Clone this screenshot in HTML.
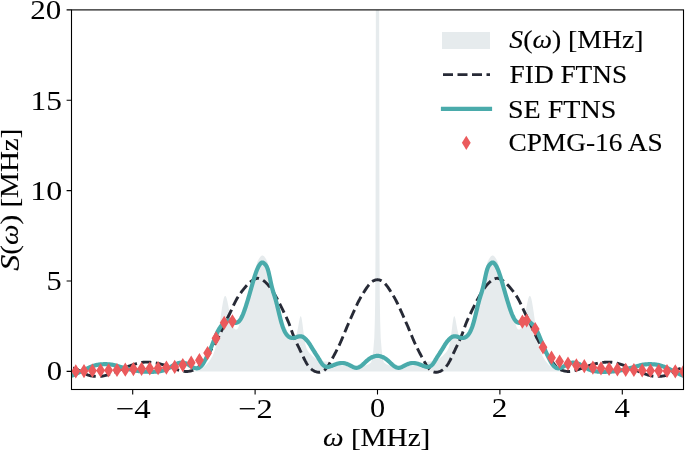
<!DOCTYPE html>
<html><head><meta charset="utf-8"><title>Spectrum</title>
<style>html,body{margin:0;padding:0;background:#fff;overflow:hidden}svg{display:block;will-change:transform}</style>
</head><body>
<svg width="685" height="451" viewBox="0 0 685 451"><rect x="0" y="0" width="685" height="451" fill="#fff"/>
<defs><clipPath id="ax"><rect x="71.5" y="9.9" width="612.0" height="379.6"/></clipPath></defs>
<g clip-path="url(#ax)">
<path d="M71.50,371.40 L71.50,371.40 L71.75,371.40 L72.00,371.40 L72.25,371.40 L72.50,371.40 L72.75,371.40 L73.00,371.40 L73.25,371.40 L73.50,371.40 L73.75,371.40 L74.00,371.40 L74.25,371.40 L74.50,371.40 L74.75,371.40 L75.00,371.40 L75.25,371.40 L75.50,371.40 L75.75,371.40 L76.00,371.40 L76.25,371.40 L76.50,371.40 L76.75,371.40 L77.00,371.40 L77.25,371.40 L77.50,371.40 L77.75,371.40 L78.00,371.40 L78.25,371.40 L78.50,371.40 L78.75,371.40 L79.00,371.40 L79.25,371.40 L79.50,371.40 L79.75,371.40 L80.00,371.40 L80.25,371.40 L80.50,371.40 L80.75,371.40 L81.00,371.40 L81.25,371.40 L81.50,371.40 L81.75,371.40 L82.00,371.40 L82.25,371.40 L82.50,371.40 L82.75,371.40 L83.00,371.40 L83.25,371.40 L83.50,371.40 L83.75,371.40 L84.00,371.40 L84.25,371.40 L84.50,371.40 L84.75,371.40 L85.00,371.40 L85.25,371.40 L85.50,371.40 L85.75,371.40 L86.00,371.40 L86.25,371.40 L86.50,371.40 L86.75,371.40 L87.00,371.40 L87.25,371.40 L87.50,371.40 L87.75,371.40 L88.00,371.40 L88.25,371.40 L88.50,371.40 L88.75,371.40 L89.00,371.40 L89.25,371.40 L89.50,371.40 L89.75,371.40 L90.00,371.40 L90.25,371.40 L90.50,371.40 L90.75,371.40 L91.00,371.40 L91.25,371.40 L91.50,371.40 L91.75,371.40 L92.00,371.40 L92.25,371.40 L92.50,371.40 L92.75,371.40 L93.00,371.40 L93.25,371.40 L93.50,371.40 L93.75,371.40 L94.00,371.40 L94.25,371.40 L94.50,371.40 L94.75,371.40 L95.00,371.40 L95.25,371.40 L95.50,371.40 L95.75,371.40 L96.00,371.40 L96.25,371.40 L96.50,371.40 L96.75,371.40 L97.00,371.40 L97.25,371.40 L97.50,371.40 L97.75,371.40 L98.00,371.40 L98.25,371.40 L98.50,371.40 L98.75,371.40 L99.00,371.40 L99.25,371.40 L99.50,371.40 L99.75,371.40 L100.00,371.40 L100.25,371.40 L100.50,371.40 L100.75,371.40 L101.00,371.40 L101.25,371.40 L101.50,371.40 L101.75,371.40 L102.00,371.40 L102.25,371.40 L102.50,371.40 L102.75,371.40 L103.00,371.40 L103.25,371.40 L103.50,371.40 L103.75,371.40 L104.00,371.40 L104.25,371.40 L104.50,371.40 L104.75,371.40 L105.00,371.40 L105.25,371.40 L105.50,371.40 L105.75,371.40 L106.00,371.40 L106.25,371.40 L106.50,371.40 L106.75,371.40 L107.00,371.40 L107.25,371.40 L107.50,371.40 L107.75,371.40 L108.00,371.40 L108.25,371.40 L108.50,371.40 L108.75,371.40 L109.00,371.40 L109.25,371.40 L109.50,371.40 L109.75,371.40 L110.00,371.40 L110.25,371.40 L110.50,371.40 L110.75,371.40 L111.00,371.40 L111.25,371.40 L111.50,371.40 L111.75,371.40 L112.00,371.40 L112.25,371.40 L112.50,371.40 L112.75,371.40 L113.00,371.40 L113.25,371.40 L113.50,371.40 L113.75,371.40 L114.00,371.40 L114.25,371.40 L114.50,371.40 L114.75,371.40 L115.00,371.40 L115.25,371.40 L115.50,371.40 L115.75,371.40 L116.00,371.40 L116.25,371.40 L116.50,371.40 L116.75,371.40 L117.00,371.40 L117.25,371.40 L117.50,371.40 L117.75,371.40 L118.00,371.40 L118.25,371.40 L118.50,371.40 L118.75,371.40 L119.00,371.40 L119.25,371.40 L119.50,371.40 L119.75,371.40 L120.00,371.40 L120.25,371.40 L120.50,371.40 L120.75,371.40 L121.00,371.40 L121.25,371.40 L121.50,371.40 L121.75,371.40 L122.00,371.40 L122.25,371.40 L122.50,371.40 L122.75,371.40 L123.00,371.40 L123.25,371.40 L123.50,371.40 L123.75,371.40 L124.00,371.40 L124.25,371.40 L124.50,371.40 L124.75,371.40 L125.00,371.40 L125.25,371.40 L125.50,371.40 L125.75,371.40 L126.00,371.40 L126.25,371.40 L126.50,371.40 L126.75,371.40 L127.00,371.40 L127.25,371.40 L127.50,371.40 L127.75,371.40 L128.00,371.40 L128.25,371.40 L128.50,371.40 L128.75,371.40 L129.00,371.40 L129.25,371.40 L129.50,371.40 L129.75,371.40 L130.00,371.40 L130.25,371.40 L130.50,371.40 L130.75,371.40 L131.00,371.40 L131.25,371.40 L131.50,371.40 L131.75,371.40 L132.00,371.40 L132.25,371.40 L132.50,371.40 L132.75,371.40 L133.00,371.40 L133.25,371.40 L133.50,371.40 L133.75,371.40 L134.00,371.40 L134.25,371.40 L134.50,371.40 L134.75,371.40 L135.00,371.40 L135.25,371.40 L135.50,371.40 L135.75,371.40 L136.00,371.40 L136.25,371.40 L136.50,371.40 L136.75,371.40 L137.00,371.40 L137.25,371.40 L137.50,371.40 L137.75,371.40 L138.00,371.40 L138.25,371.40 L138.50,371.40 L138.75,371.40 L139.00,371.40 L139.25,371.40 L139.50,371.40 L139.75,371.40 L140.00,371.40 L140.25,371.40 L140.50,371.40 L140.75,371.40 L141.00,371.40 L141.25,371.40 L141.50,371.40 L141.75,371.40 L142.00,371.40 L142.25,371.40 L142.50,371.40 L142.75,371.40 L143.00,371.40 L143.25,371.40 L143.50,371.40 L143.75,371.40 L144.00,371.40 L144.25,371.40 L144.50,371.40 L144.75,371.40 L145.00,371.40 L145.25,371.40 L145.50,371.40 L145.75,371.40 L146.00,371.40 L146.25,371.40 L146.50,371.40 L146.75,371.40 L147.00,371.40 L147.25,371.40 L147.50,371.40 L147.75,371.40 L148.00,371.40 L148.25,371.40 L148.50,371.40 L148.75,371.40 L149.00,371.40 L149.25,371.40 L149.50,371.40 L149.75,371.40 L150.00,371.40 L150.25,371.40 L150.50,371.40 L150.75,371.40 L151.00,371.40 L151.25,371.40 L151.50,371.40 L151.75,371.40 L152.00,371.40 L152.25,371.40 L152.50,371.40 L152.75,371.40 L153.00,371.40 L153.25,371.40 L153.50,371.40 L153.75,371.40 L154.00,371.40 L154.25,371.40 L154.50,371.40 L154.75,371.40 L155.00,371.40 L155.25,371.40 L155.50,371.40 L155.75,371.40 L156.00,371.40 L156.25,371.40 L156.50,371.40 L156.75,371.40 L157.00,371.40 L157.25,371.40 L157.50,371.40 L157.75,371.40 L158.00,371.40 L158.25,371.40 L158.50,371.40 L158.75,371.40 L159.00,371.40 L159.25,371.40 L159.50,371.40 L159.75,371.40 L160.00,371.40 L160.25,371.40 L160.50,371.40 L160.75,371.40 L161.00,371.40 L161.25,371.40 L161.50,371.40 L161.75,371.40 L162.00,371.40 L162.25,371.40 L162.50,371.40 L162.75,371.40 L163.00,371.40 L163.25,371.40 L163.50,371.40 L163.75,371.40 L164.00,371.40 L164.25,371.40 L164.50,371.40 L164.75,371.40 L165.00,371.40 L165.25,371.40 L165.50,371.40 L165.75,371.40 L166.00,371.40 L166.25,371.40 L166.50,371.40 L166.75,371.40 L167.00,371.40 L167.25,371.40 L167.50,371.40 L167.75,371.40 L168.00,371.40 L168.25,371.40 L168.50,371.40 L168.75,371.40 L169.00,371.40 L169.25,371.40 L169.50,371.40 L169.75,371.40 L170.00,371.40 L170.25,371.40 L170.50,371.40 L170.75,371.40 L171.00,371.40 L171.25,371.40 L171.50,371.40 L171.75,371.40 L172.00,371.40 L172.25,371.40 L172.50,371.40 L172.75,371.40 L173.00,371.40 L173.25,371.40 L173.50,371.40 L173.75,371.40 L174.00,371.40 L174.25,371.40 L174.50,371.40 L174.75,371.40 L175.00,371.40 L175.25,371.40 L175.50,371.40 L175.75,371.40 L176.00,371.40 L176.25,371.40 L176.50,371.40 L176.75,371.40 L177.00,371.40 L177.25,371.40 L177.50,371.40 L177.75,371.40 L178.00,371.40 L178.25,371.40 L178.50,371.40 L178.75,371.40 L179.00,371.40 L179.25,371.40 L179.50,371.40 L179.75,371.40 L180.00,371.40 L180.25,371.40 L180.50,371.40 L180.75,371.40 L181.00,371.40 L181.25,371.40 L181.50,371.40 L181.75,371.40 L182.00,371.40 L182.25,371.40 L182.50,371.40 L182.75,371.40 L183.00,371.40 L183.25,371.40 L183.50,371.40 L183.75,371.40 L184.00,371.40 L184.25,371.40 L184.50,371.40 L184.75,371.40 L185.00,371.40 L185.25,371.40 L185.50,371.40 L185.75,371.40 L186.00,371.40 L186.25,371.40 L186.50,371.40 L186.75,371.40 L187.00,371.40 L187.25,371.40 L187.50,371.40 L187.75,371.40 L188.00,371.40 L188.25,371.40 L188.50,371.40 L188.75,371.40 L189.00,371.40 L189.25,371.40 L189.50,371.40 L189.75,371.40 L190.00,371.40 L190.25,371.40 L190.50,371.39 L190.75,371.39 L191.00,371.38 L191.25,371.37 L191.50,371.35 L191.75,371.33 L192.00,371.32 L192.25,371.29 L192.50,371.27 L192.75,371.25 L193.00,371.22 L193.25,371.19 L193.50,371.16 L193.75,371.13 L194.00,371.10 L194.25,371.06 L194.50,371.03 L194.75,370.99 L195.00,370.95 L195.25,370.92 L195.50,370.88 L195.75,370.84 L196.00,370.80 L196.25,370.76 L196.50,370.71 L196.75,370.65 L197.00,370.58 L197.25,370.51 L197.50,370.43 L197.75,370.35 L198.00,370.26 L198.25,370.16 L198.50,370.06 L198.75,369.95 L199.00,369.84 L199.25,369.72 L199.50,369.60 L199.75,369.47 L200.00,369.34 L200.25,369.21 L200.50,369.07 L200.75,368.92 L201.00,368.78 L201.25,368.63 L201.50,368.47 L201.75,368.32 L202.00,368.16 L202.25,368.00 L202.50,367.83 L202.75,367.67 L203.00,367.50 L203.25,367.33 L203.50,367.15 L203.75,366.96 L204.00,366.76 L204.25,366.56 L204.50,366.35 L204.75,366.13 L205.00,365.91 L205.25,365.68 L205.50,365.44 L205.75,365.20 L206.00,364.95 L206.25,364.69 L206.50,364.43 L206.75,364.16 L207.00,363.88 L207.25,363.60 L207.50,363.32 L207.75,363.02 L208.00,362.73 L208.25,362.42 L208.50,362.12 L208.75,361.80 L209.00,361.49 L209.25,361.16 L209.50,360.82 L209.75,360.48 L210.00,360.13 L210.25,359.76 L210.50,359.39 L210.75,359.00 L211.00,358.60 L211.25,358.19 L211.50,357.77 L211.75,357.33 L212.00,356.88 L212.25,356.41 L212.50,355.92 L212.75,355.41 L213.00,354.89 L213.25,354.33 L213.50,353.76 L213.75,353.16 L214.00,352.52 L214.25,351.85 L214.50,351.12 L214.75,350.34 L215.00,349.51 L215.25,348.63 L215.50,347.69 L215.75,346.70 L216.00,345.66 L216.25,344.57 L216.50,343.42 L216.75,342.22 L217.00,340.97 L217.25,339.67 L217.50,338.32 L217.75,336.91 L218.00,335.47 L218.25,333.96 L218.50,332.39 L218.75,330.76 L219.00,329.08 L219.25,327.34 L219.50,325.57 L219.75,323.76 L220.00,321.94 L220.25,320.10 L220.50,318.26 L220.75,316.43 L221.00,314.63 L221.25,312.86 L221.50,311.11 L221.75,309.40 L222.00,307.74 L222.25,306.15 L222.50,304.63 L222.75,303.20 L223.00,301.87 L223.25,300.65 L223.50,299.55 L223.75,298.59 L224.00,297.77 L224.25,297.10 L224.50,296.58 L224.75,296.22 L225.00,296.01 L225.25,295.96 L225.50,296.07 L225.75,296.33 L226.00,296.74 L226.25,297.28 L226.50,297.96 L226.75,298.76 L227.00,299.68 L227.25,300.69 L227.50,301.79 L227.75,302.96 L228.00,304.20 L228.25,305.48 L228.50,306.80 L228.75,308.14 L229.00,309.49 L229.25,310.84 L229.50,312.17 L229.75,313.48 L230.00,314.76 L230.25,316.00 L230.50,317.20 L230.75,318.37 L231.00,319.49 L231.25,320.55 L231.50,321.56 L231.75,322.50 L232.00,323.39 L232.25,324.20 L232.50,324.96 L232.75,325.65 L233.00,326.27 L233.25,326.83 L233.50,327.33 L233.75,327.77 L234.00,328.16 L234.25,328.48 L234.50,328.76 L234.75,328.98 L235.00,329.15 L235.25,329.29 L235.50,329.41 L235.75,329.50 L236.00,329.55 L236.25,329.57 L236.50,329.55 L236.75,329.47 L237.00,329.33 L237.25,329.13 L237.50,328.85 L237.75,328.50 L238.00,328.05 L238.25,327.52 L238.50,326.88 L238.75,326.17 L239.00,325.45 L239.25,324.71 L239.50,323.96 L239.75,323.19 L240.00,322.42 L240.25,321.63 L240.50,320.84 L240.75,320.04 L241.00,319.23 L241.25,318.43 L241.50,317.62 L241.75,316.81 L242.00,316.00 L242.25,315.19 L242.50,314.38 L242.75,313.57 L243.00,312.76 L243.25,311.95 L243.50,311.14 L243.75,310.33 L244.00,309.52 L244.25,308.71 L244.50,307.90 L244.75,307.09 L245.00,306.27 L245.25,305.46 L245.50,304.64 L245.75,303.82 L246.00,303.00 L246.25,302.18 L246.50,301.35 L246.75,300.52 L247.00,299.69 L247.25,298.86 L247.50,298.03 L247.75,297.19 L248.00,296.35 L248.25,295.50 L248.50,294.65 L248.75,293.80 L249.00,292.95 L249.25,292.09 L249.50,291.23 L249.75,290.37 L250.00,289.50 L250.25,288.63 L250.50,287.76 L250.75,286.88 L251.00,286.00 L251.25,285.11 L251.50,284.21 L251.75,283.30 L252.00,282.38 L252.25,281.45 L252.50,280.52 L252.75,279.58 L253.00,278.63 L253.25,277.68 L253.50,276.73 L253.75,275.77 L254.00,274.81 L254.25,273.86 L254.50,272.90 L254.75,271.95 L255.00,271.00 L255.25,270.03 L255.50,269.01 L255.75,267.98 L256.00,266.93 L256.25,265.90 L256.50,264.89 L256.75,263.92 L257.00,263.00 L257.25,262.20 L257.50,261.53 L257.75,260.97 L258.00,260.48 L258.25,260.04 L258.50,259.60 L258.75,259.16 L259.00,258.73 L259.25,258.31 L259.50,257.91 L259.75,257.54 L260.00,257.20 L260.25,256.90 L260.50,256.62 L260.75,256.37 L261.00,256.15 L261.25,255.94 L261.50,255.75 L261.75,255.59 L262.00,255.48 L262.25,255.41 L262.50,255.41 L262.75,255.46 L263.00,255.57 L263.25,255.72 L263.50,255.90 L263.75,256.10 L264.00,256.33 L264.25,256.57 L264.50,256.84 L264.75,257.14 L265.00,257.47 L265.25,257.83 L265.50,258.23 L265.75,258.64 L266.00,259.07 L266.25,259.51 L266.50,259.95 L266.75,260.41 L267.00,260.91 L267.25,261.47 L267.50,262.11 L267.75,262.84 L268.00,263.68 L268.25,264.60 L268.50,265.60 L268.75,266.66 L269.00,267.77 L269.25,268.92 L269.50,270.10 L269.75,271.28 L270.00,272.48 L270.25,273.72 L270.50,274.99 L270.75,276.29 L271.00,277.61 L271.25,278.92 L271.50,280.21 L271.75,281.48 L272.00,282.71 L272.25,283.89 L272.50,285.00 L272.75,286.06 L273.00,287.10 L273.25,288.13 L273.50,289.14 L273.75,290.14 L274.00,291.12 L274.25,292.10 L274.50,293.08 L274.75,294.05 L275.00,295.03 L275.25,296.00 L275.50,296.98 L275.75,297.97 L276.00,298.97 L276.25,299.98 L276.50,301.00 L276.75,302.04 L277.00,303.10 L277.25,304.17 L277.50,305.25 L277.75,306.33 L278.00,307.43 L278.25,308.52 L278.50,309.61 L278.75,310.70 L279.00,311.79 L279.25,312.86 L279.50,313.92 L279.75,314.97 L280.00,316.00 L280.25,317.00 L280.50,317.96 L280.75,318.89 L281.00,319.77 L281.25,320.63 L281.50,321.45 L281.75,322.23 L282.00,322.99 L282.25,323.71 L282.50,324.40 L282.75,325.07 L283.00,325.70 L283.25,326.32 L283.50,326.90 L283.75,327.46 L284.00,328.00 L284.25,328.52 L284.50,329.02 L284.75,329.50 L285.00,329.96 L285.25,330.41 L285.50,330.84 L285.75,331.24 L286.00,331.63 L286.25,332.00 L286.50,332.35 L286.75,332.67 L287.00,332.98 L287.25,333.27 L287.50,333.53 L287.75,333.78 L288.00,334.00 L288.25,334.21 L288.50,334.42 L288.75,334.63 L289.00,334.84 L289.25,335.04 L289.50,335.24 L289.75,335.42 L290.00,335.60 L290.25,335.77 L290.50,335.92 L290.75,336.06 L291.00,336.19 L291.25,336.29 L291.50,336.38 L291.75,336.45 L292.00,336.49 L292.25,336.52 L292.50,336.55 L292.75,336.58 L293.00,336.60 L293.25,336.61 L293.50,336.61 L293.75,336.60 L294.00,336.57 L294.25,336.53 L294.50,336.46 L294.75,336.35 L295.00,336.20 L295.25,336.01 L295.50,335.75 L295.75,335.42 L296.00,335.01 L296.25,334.50 L296.50,333.89 L296.75,333.16 L297.00,332.31 L297.25,331.33 L297.50,330.23 L297.75,329.01 L298.00,327.70 L298.25,326.32 L298.50,324.88 L298.75,323.43 L299.00,322.01 L299.25,320.66 L299.50,319.41 L299.75,318.32 L300.00,317.43 L300.25,316.76 L300.50,316.34 L300.75,316.20 L301.00,316.37 L301.25,316.92 L301.50,317.83 L301.75,319.05 L302.00,320.54 L302.25,322.25 L302.50,324.12 L302.75,326.10 L303.00,328.13 L303.25,330.15 L303.50,332.11 L303.75,334.02 L304.00,335.88 L304.25,337.67 L304.50,339.35 L304.75,340.92 L305.00,342.36 L305.25,343.66 L305.50,344.82 L305.75,345.84 L306.00,346.71 L306.25,347.47 L306.50,348.14 L306.75,348.75 L307.00,349.30 L307.25,349.79 L307.50,350.24 L307.75,350.66 L308.00,351.05 L308.25,351.41 L308.50,351.76 L308.75,352.08 L309.00,352.39 L309.25,352.68 L309.50,352.96 L309.75,353.24 L310.00,353.50 L310.25,353.75 L310.50,354.00 L310.75,354.26 L311.00,354.50 L311.25,354.75 L311.50,354.99 L311.75,355.23 L312.00,355.47 L312.25,355.71 L312.50,355.94 L312.75,356.16 L313.00,356.39 L313.25,356.61 L313.50,356.82 L313.75,357.03 L314.00,357.23 L314.25,357.43 L314.50,357.63 L314.75,357.82 L315.00,358.00 L315.25,358.18 L315.50,358.36 L315.75,358.54 L316.00,358.73 L316.25,358.91 L316.50,359.08 L316.75,359.26 L317.00,359.43 L317.25,359.59 L317.50,359.75 L317.75,359.90 L318.00,360.05 L318.25,360.18 L318.50,360.31 L318.75,360.42 L319.00,360.52 L319.25,360.61 L319.50,360.69 L319.75,360.75 L320.00,360.80 L320.25,360.84 L320.50,360.88 L320.75,360.92 L321.00,360.95 L321.25,360.99 L321.50,361.03 L321.75,361.06 L322.00,361.10 L322.25,361.13 L322.50,361.17 L322.75,361.20 L323.00,361.24 L323.25,361.27 L323.50,361.30 L323.75,361.34 L324.00,361.37 L324.25,361.40 L324.50,361.43 L324.75,361.47 L325.00,361.50 L325.25,361.53 L325.50,361.55 L325.75,361.57 L326.00,361.58 L326.25,361.59 L326.50,361.60 L326.75,361.61 L327.00,361.63 L327.25,361.65 L327.50,361.67 L327.75,361.70 L328.00,361.74 L328.25,361.78 L328.50,361.84 L328.75,361.91 L329.00,362.00 L329.25,362.09 L329.50,362.19 L329.75,362.28 L330.00,362.38 L330.25,362.47 L330.50,362.56 L330.75,362.66 L331.00,362.75 L331.25,362.84 L331.50,362.94 L331.75,363.03 L332.00,363.12 L332.25,363.22 L332.50,363.31 L332.75,363.41 L333.00,363.50 L333.25,363.59 L333.50,363.69 L333.75,363.78 L334.00,363.88 L334.25,363.97 L334.50,364.06 L334.75,364.16 L335.00,364.25 L335.25,364.34 L335.50,364.44 L335.75,364.53 L336.00,364.62 L336.25,364.72 L336.50,364.81 L336.75,364.91 L337.00,365.00 L337.25,365.09 L337.50,365.16 L337.75,365.22 L338.00,365.27 L338.25,365.31 L338.50,365.34 L338.75,365.37 L339.00,365.39 L339.25,365.40 L339.50,365.41 L339.75,365.42 L340.00,365.43 L340.25,365.45 L340.50,365.46 L340.75,365.48 L341.00,365.50 L341.25,365.53 L341.50,365.55 L341.75,365.58 L342.00,365.60 L342.25,365.63 L342.50,365.65 L342.75,365.68 L343.00,365.70 L343.25,365.73 L343.50,365.75 L343.75,365.78 L344.00,365.80 L344.25,365.83 L344.50,365.85 L344.75,365.88 L345.00,365.90 L345.25,365.93 L345.50,365.95 L345.75,365.97 L346.00,366.00 L346.25,366.02 L346.50,366.05 L346.75,366.07 L347.00,366.10 L347.25,366.12 L347.50,366.15 L347.75,366.17 L348.00,366.20 L348.25,366.22 L348.50,366.25 L348.75,366.27 L349.00,366.30 L349.25,366.33 L349.50,366.35 L349.75,366.39 L350.00,366.42 L350.25,366.45 L350.50,366.48 L350.75,366.52 L351.00,366.56 L351.25,366.59 L351.50,366.63 L351.75,366.67 L352.00,366.71 L352.25,366.75 L352.50,366.79 L352.75,366.83 L353.00,366.87 L353.25,366.91 L353.50,366.95 L353.75,366.99 L354.00,367.03 L354.25,367.06 L354.50,367.10 L354.75,367.14 L355.00,367.17 L355.25,367.21 L355.50,367.24 L355.75,367.27 L356.00,367.30 L356.25,367.33 L356.50,367.35 L356.75,367.38 L357.00,367.40 L357.25,367.42 L357.50,367.43 L357.75,367.43 L358.00,367.42 L358.25,367.41 L358.50,367.39 L358.75,367.36 L359.00,367.33 L359.25,367.29 L359.50,367.25 L359.75,367.20 L360.00,367.15 L360.25,367.09 L360.50,367.03 L360.75,366.97 L361.00,366.90 L361.25,366.83 L361.50,366.76 L361.75,366.68 L362.00,366.61 L362.25,366.53 L362.50,366.46 L362.75,366.38 L363.00,366.30 L363.25,366.23 L363.50,366.15 L363.75,366.07 L364.00,366.00 L364.25,365.93 L364.50,365.85 L364.75,365.77 L365.00,365.69 L365.25,365.61 L365.50,365.52 L365.75,365.43 L366.00,365.34 L366.25,365.25 L366.50,365.15 L366.75,365.05 L367.00,364.95 L367.25,364.84 L367.50,364.73 L367.75,364.62 L368.00,364.50 L368.25,364.38 L368.50,364.26 L368.75,364.13 L369.00,364.00 L369.25,363.86 L369.50,363.70 L369.75,363.53 L370.00,363.34 L370.25,363.15 L370.50,362.94 L370.75,362.72 L371.00,362.49 L371.25,362.25 L372.50,355.00 L373.30,350.00 L374.30,338.00 L374.80,322.00 L375.20,300.00 L375.50,250.00 L375.70,120.00 L375.85,5.00 L379.15,5.00 L379.30,120.00 L379.50,250.00 L379.80,300.00 L380.20,322.00 L380.70,338.00 L381.70,350.00 L382.50,355.00 L383.75,362.25 L384.00,362.49 L384.25,362.72 L384.50,362.94 L384.75,363.15 L385.00,363.34 L385.25,363.53 L385.50,363.70 L385.75,363.86 L386.00,364.00 L386.25,364.13 L386.50,364.26 L386.75,364.38 L387.00,364.50 L387.25,364.62 L387.50,364.73 L387.75,364.84 L388.00,364.95 L388.25,365.05 L388.50,365.15 L388.75,365.25 L389.00,365.34 L389.25,365.43 L389.50,365.52 L389.75,365.61 L390.00,365.69 L390.25,365.77 L390.50,365.85 L390.75,365.93 L391.00,366.00 L391.25,366.07 L391.50,366.15 L391.75,366.23 L392.00,366.30 L392.25,366.38 L392.50,366.46 L392.75,366.53 L393.00,366.61 L393.25,366.68 L393.50,366.76 L393.75,366.83 L394.00,366.90 L394.25,366.97 L394.50,367.03 L394.75,367.09 L395.00,367.15 L395.25,367.20 L395.50,367.25 L395.75,367.29 L396.00,367.33 L396.25,367.36 L396.50,367.39 L396.75,367.41 L397.00,367.42 L397.25,367.43 L397.50,367.43 L397.75,367.42 L398.00,367.40 L398.25,367.38 L398.50,367.35 L398.75,367.33 L399.00,367.30 L399.25,367.27 L399.50,367.24 L399.75,367.21 L400.00,367.17 L400.25,367.14 L400.50,367.10 L400.75,367.06 L401.00,367.03 L401.25,366.99 L401.50,366.95 L401.75,366.91 L402.00,366.87 L402.25,366.83 L402.50,366.79 L402.75,366.75 L403.00,366.71 L403.25,366.67 L403.50,366.63 L403.75,366.59 L404.00,366.56 L404.25,366.52 L404.50,366.48 L404.75,366.45 L405.00,366.42 L405.25,366.39 L405.50,366.35 L405.75,366.33 L406.00,366.30 L406.25,366.27 L406.50,366.25 L406.75,366.22 L407.00,366.20 L407.25,366.17 L407.50,366.15 L407.75,366.12 L408.00,366.10 L408.25,366.07 L408.50,366.05 L408.75,366.02 L409.00,366.00 L409.25,365.97 L409.50,365.95 L409.75,365.93 L410.00,365.90 L410.25,365.88 L410.50,365.85 L410.75,365.83 L411.00,365.80 L411.25,365.78 L411.50,365.75 L411.75,365.73 L412.00,365.70 L412.25,365.68 L412.50,365.65 L412.75,365.63 L413.00,365.60 L413.25,365.58 L413.50,365.55 L413.75,365.53 L414.00,365.50 L414.25,365.48 L414.50,365.46 L414.75,365.45 L415.00,365.43 L415.25,365.42 L415.50,365.41 L415.75,365.40 L416.00,365.39 L416.25,365.37 L416.50,365.34 L416.75,365.31 L417.00,365.27 L417.25,365.22 L417.50,365.16 L417.75,365.09 L418.00,365.00 L418.25,364.91 L418.50,364.81 L418.75,364.72 L419.00,364.62 L419.25,364.53 L419.50,364.44 L419.75,364.34 L420.00,364.25 L420.25,364.16 L420.50,364.06 L420.75,363.97 L421.00,363.88 L421.25,363.78 L421.50,363.69 L421.75,363.59 L422.00,363.50 L422.25,363.41 L422.50,363.31 L422.75,363.22 L423.00,363.12 L423.25,363.03 L423.50,362.94 L423.75,362.84 L424.00,362.75 L424.25,362.66 L424.50,362.56 L424.75,362.47 L425.00,362.38 L425.25,362.28 L425.50,362.19 L425.75,362.09 L426.00,362.00 L426.25,361.91 L426.50,361.84 L426.75,361.78 L427.00,361.74 L427.25,361.70 L427.50,361.67 L427.75,361.65 L428.00,361.63 L428.25,361.61 L428.50,361.60 L428.75,361.59 L429.00,361.58 L429.25,361.57 L429.50,361.55 L429.75,361.53 L430.00,361.50 L430.25,361.47 L430.50,361.43 L430.75,361.40 L431.00,361.37 L431.25,361.34 L431.50,361.30 L431.75,361.27 L432.00,361.24 L432.25,361.20 L432.50,361.17 L432.75,361.13 L433.00,361.10 L433.25,361.06 L433.50,361.03 L433.75,360.99 L434.00,360.95 L434.25,360.92 L434.50,360.88 L434.75,360.84 L435.00,360.80 L435.25,360.75 L435.50,360.69 L435.75,360.61 L436.00,360.52 L436.25,360.42 L436.50,360.31 L436.75,360.18 L437.00,360.05 L437.25,359.90 L437.50,359.75 L437.75,359.59 L438.00,359.43 L438.25,359.26 L438.50,359.08 L438.75,358.91 L439.00,358.73 L439.25,358.54 L439.50,358.36 L439.75,358.18 L440.00,358.00 L440.25,357.82 L440.50,357.63 L440.75,357.43 L441.00,357.23 L441.25,357.03 L441.50,356.82 L441.75,356.61 L442.00,356.39 L442.25,356.16 L442.50,355.94 L442.75,355.71 L443.00,355.47 L443.25,355.23 L443.50,354.99 L443.75,354.75 L444.00,354.50 L444.25,354.26 L444.50,354.00 L444.75,353.75 L445.00,353.50 L445.25,353.24 L445.50,352.96 L445.75,352.68 L446.00,352.39 L446.25,352.08 L446.50,351.76 L446.75,351.41 L447.00,351.05 L447.25,350.66 L447.50,350.24 L447.75,349.79 L448.00,349.30 L448.25,348.75 L448.50,348.14 L448.75,347.47 L449.00,346.71 L449.25,345.84 L449.50,344.82 L449.75,343.66 L450.00,342.36 L450.25,340.92 L450.50,339.35 L450.75,337.67 L451.00,335.88 L451.25,334.02 L451.50,332.11 L451.75,330.15 L452.00,328.13 L452.25,326.10 L452.50,324.12 L452.75,322.25 L453.00,320.54 L453.25,319.05 L453.50,317.83 L453.75,316.92 L454.00,316.37 L454.25,316.20 L454.50,316.34 L454.75,316.76 L455.00,317.43 L455.25,318.32 L455.50,319.41 L455.75,320.66 L456.00,322.01 L456.25,323.43 L456.50,324.88 L456.75,326.32 L457.00,327.70 L457.25,329.01 L457.50,330.23 L457.75,331.33 L458.00,332.31 L458.25,333.16 L458.50,333.89 L458.75,334.50 L459.00,335.01 L459.25,335.42 L459.50,335.75 L459.75,336.01 L460.00,336.20 L460.25,336.35 L460.50,336.46 L460.75,336.53 L461.00,336.57 L461.25,336.60 L461.50,336.61 L461.75,336.61 L462.00,336.60 L462.25,336.58 L462.50,336.55 L462.75,336.52 L463.00,336.49 L463.25,336.45 L463.50,336.38 L463.75,336.29 L464.00,336.19 L464.25,336.06 L464.50,335.92 L464.75,335.77 L465.00,335.60 L465.25,335.42 L465.50,335.24 L465.75,335.04 L466.00,334.84 L466.25,334.63 L466.50,334.42 L466.75,334.21 L467.00,334.00 L467.25,333.78 L467.50,333.53 L467.75,333.27 L468.00,332.98 L468.25,332.67 L468.50,332.35 L468.75,332.00 L469.00,331.63 L469.25,331.24 L469.50,330.84 L469.75,330.41 L470.00,329.96 L470.25,329.50 L470.50,329.02 L470.75,328.52 L471.00,328.00 L471.25,327.46 L471.50,326.90 L471.75,326.32 L472.00,325.70 L472.25,325.07 L472.50,324.40 L472.75,323.71 L473.00,322.99 L473.25,322.23 L473.50,321.45 L473.75,320.63 L474.00,319.77 L474.25,318.89 L474.50,317.96 L474.75,317.00 L475.00,316.00 L475.25,314.97 L475.50,313.92 L475.75,312.86 L476.00,311.79 L476.25,310.70 L476.50,309.61 L476.75,308.52 L477.00,307.43 L477.25,306.33 L477.50,305.25 L477.75,304.17 L478.00,303.10 L478.25,302.04 L478.50,301.00 L478.75,299.98 L479.00,298.97 L479.25,297.97 L479.50,296.98 L479.75,296.00 L480.00,295.03 L480.25,294.05 L480.50,293.08 L480.75,292.10 L481.00,291.12 L481.25,290.14 L481.50,289.14 L481.75,288.13 L482.00,287.10 L482.25,286.06 L482.50,285.00 L482.75,283.89 L483.00,282.71 L483.25,281.48 L483.50,280.21 L483.75,278.92 L484.00,277.61 L484.25,276.29 L484.50,274.99 L484.75,273.72 L485.00,272.48 L485.25,271.28 L485.50,270.10 L485.75,268.92 L486.00,267.77 L486.25,266.66 L486.50,265.60 L486.75,264.60 L487.00,263.68 L487.25,262.84 L487.50,262.11 L487.75,261.47 L488.00,260.91 L488.25,260.41 L488.50,259.95 L488.75,259.51 L489.00,259.07 L489.25,258.64 L489.50,258.23 L489.75,257.83 L490.00,257.47 L490.25,257.14 L490.50,256.84 L490.75,256.57 L491.00,256.33 L491.25,256.10 L491.50,255.90 L491.75,255.72 L492.00,255.57 L492.25,255.46 L492.50,255.41 L492.75,255.41 L493.00,255.48 L493.25,255.59 L493.50,255.75 L493.75,255.94 L494.00,256.15 L494.25,256.37 L494.50,256.62 L494.75,256.90 L495.00,257.20 L495.25,257.54 L495.50,257.91 L495.75,258.31 L496.00,258.73 L496.25,259.16 L496.50,259.60 L496.75,260.04 L497.00,260.48 L497.25,260.97 L497.50,261.53 L497.75,262.20 L498.00,263.00 L498.25,263.92 L498.50,264.89 L498.75,265.90 L499.00,266.93 L499.25,267.98 L499.50,269.01 L499.75,270.03 L500.00,271.00 L500.25,271.95 L500.50,272.90 L500.75,273.86 L501.00,274.81 L501.25,275.77 L501.50,276.73 L501.75,277.68 L502.00,278.63 L502.25,279.58 L502.50,280.52 L502.75,281.45 L503.00,282.38 L503.25,283.30 L503.50,284.21 L503.75,285.11 L504.00,286.00 L504.25,286.88 L504.50,287.76 L504.75,288.63 L505.00,289.50 L505.25,290.37 L505.50,291.23 L505.75,292.09 L506.00,292.95 L506.25,293.80 L506.50,294.65 L506.75,295.50 L507.00,296.35 L507.25,297.19 L507.50,298.03 L507.75,298.86 L508.00,299.69 L508.25,300.52 L508.50,301.35 L508.75,302.18 L509.00,303.00 L509.25,303.82 L509.50,304.64 L509.75,305.46 L510.00,306.27 L510.25,307.09 L510.50,307.90 L510.75,308.71 L511.00,309.52 L511.25,310.33 L511.50,311.14 L511.75,311.95 L512.00,312.76 L512.25,313.57 L512.50,314.38 L512.75,315.19 L513.00,316.00 L513.25,316.81 L513.50,317.62 L513.75,318.43 L514.00,319.23 L514.25,320.04 L514.50,320.84 L514.75,321.63 L515.00,322.42 L515.25,323.19 L515.50,323.96 L515.75,324.71 L516.00,325.45 L516.25,326.17 L516.50,326.88 L516.75,327.52 L517.00,328.05 L517.25,328.50 L517.50,328.85 L517.75,329.13 L518.00,329.33 L518.25,329.47 L518.50,329.55 L518.75,329.57 L519.00,329.55 L519.25,329.50 L519.50,329.41 L519.75,329.29 L520.00,329.15 L520.25,328.98 L520.50,328.76 L520.75,328.48 L521.00,328.16 L521.25,327.77 L521.50,327.33 L521.75,326.83 L522.00,326.27 L522.25,325.65 L522.50,324.96 L522.75,324.20 L523.00,323.39 L523.25,322.50 L523.50,321.56 L523.75,320.55 L524.00,319.49 L524.25,318.37 L524.50,317.20 L524.75,316.00 L525.00,314.76 L525.25,313.48 L525.50,312.17 L525.75,310.84 L526.00,309.49 L526.25,308.14 L526.50,306.80 L526.75,305.48 L527.00,304.20 L527.25,302.96 L527.50,301.79 L527.75,300.69 L528.00,299.68 L528.25,298.76 L528.50,297.96 L528.75,297.28 L529.00,296.74 L529.25,296.33 L529.50,296.07 L529.75,295.96 L530.00,296.01 L530.25,296.22 L530.50,296.58 L530.75,297.10 L531.00,297.77 L531.25,298.59 L531.50,299.55 L531.75,300.65 L532.00,301.87 L532.25,303.20 L532.50,304.63 L532.75,306.15 L533.00,307.74 L533.25,309.40 L533.50,311.11 L533.75,312.86 L534.00,314.63 L534.25,316.43 L534.50,318.26 L534.75,320.10 L535.00,321.94 L535.25,323.76 L535.50,325.57 L535.75,327.34 L536.00,329.08 L536.25,330.76 L536.50,332.39 L536.75,333.96 L537.00,335.47 L537.25,336.91 L537.50,338.32 L537.75,339.67 L538.00,340.97 L538.25,342.22 L538.50,343.42 L538.75,344.57 L539.00,345.66 L539.25,346.70 L539.50,347.69 L539.75,348.63 L540.00,349.51 L540.25,350.34 L540.50,351.12 L540.75,351.85 L541.00,352.52 L541.25,353.16 L541.50,353.76 L541.75,354.33 L542.00,354.89 L542.25,355.41 L542.50,355.92 L542.75,356.41 L543.00,356.88 L543.25,357.33 L543.50,357.77 L543.75,358.19 L544.00,358.60 L544.25,359.00 L544.50,359.39 L544.75,359.76 L545.00,360.13 L545.25,360.48 L545.50,360.82 L545.75,361.16 L546.00,361.49 L546.25,361.80 L546.50,362.12 L546.75,362.42 L547.00,362.73 L547.25,363.02 L547.50,363.32 L547.75,363.60 L548.00,363.88 L548.25,364.16 L548.50,364.43 L548.75,364.69 L549.00,364.95 L549.25,365.20 L549.50,365.44 L549.75,365.68 L550.00,365.91 L550.25,366.13 L550.50,366.35 L550.75,366.56 L551.00,366.76 L551.25,366.96 L551.50,367.15 L551.75,367.33 L552.00,367.50 L552.25,367.67 L552.50,367.83 L552.75,368.00 L553.00,368.16 L553.25,368.32 L553.50,368.47 L553.75,368.63 L554.00,368.78 L554.25,368.92 L554.50,369.07 L554.75,369.21 L555.00,369.34 L555.25,369.47 L555.50,369.60 L555.75,369.72 L556.00,369.84 L556.25,369.95 L556.50,370.06 L556.75,370.16 L557.00,370.26 L557.25,370.35 L557.50,370.43 L557.75,370.51 L558.00,370.58 L558.25,370.65 L558.50,370.71 L558.75,370.76 L559.00,370.80 L559.25,370.84 L559.50,370.88 L559.75,370.92 L560.00,370.95 L560.25,370.99 L560.50,371.03 L560.75,371.06 L561.00,371.10 L561.25,371.13 L561.50,371.16 L561.75,371.19 L562.00,371.22 L562.25,371.25 L562.50,371.27 L562.75,371.29 L563.00,371.32 L563.25,371.33 L563.50,371.35 L563.75,371.37 L564.00,371.38 L564.25,371.39 L564.50,371.39 L564.75,371.40 L565.00,371.40 L565.25,371.40 L565.50,371.40 L565.75,371.40 L566.00,371.40 L566.25,371.40 L566.50,371.40 L566.75,371.40 L567.00,371.40 L567.25,371.40 L567.50,371.40 L567.75,371.40 L568.00,371.40 L568.25,371.40 L568.50,371.40 L568.75,371.40 L569.00,371.40 L569.25,371.40 L569.50,371.40 L569.75,371.40 L570.00,371.40 L570.25,371.40 L570.50,371.40 L570.75,371.40 L571.00,371.40 L571.25,371.40 L571.50,371.40 L571.75,371.40 L572.00,371.40 L572.25,371.40 L572.50,371.40 L572.75,371.40 L573.00,371.40 L573.25,371.40 L573.50,371.40 L573.75,371.40 L574.00,371.40 L574.25,371.40 L574.50,371.40 L574.75,371.40 L575.00,371.40 L575.25,371.40 L575.50,371.40 L575.75,371.40 L576.00,371.40 L576.25,371.40 L576.50,371.40 L576.75,371.40 L577.00,371.40 L577.25,371.40 L577.50,371.40 L577.75,371.40 L578.00,371.40 L578.25,371.40 L578.50,371.40 L578.75,371.40 L579.00,371.40 L579.25,371.40 L579.50,371.40 L579.75,371.40 L580.00,371.40 L580.25,371.40 L580.50,371.40 L580.75,371.40 L581.00,371.40 L581.25,371.40 L581.50,371.40 L581.75,371.40 L582.00,371.40 L582.25,371.40 L582.50,371.40 L582.75,371.40 L583.00,371.40 L583.25,371.40 L583.50,371.40 L583.75,371.40 L584.00,371.40 L584.25,371.40 L584.50,371.40 L584.75,371.40 L585.00,371.40 L585.25,371.40 L585.50,371.40 L585.75,371.40 L586.00,371.40 L586.25,371.40 L586.50,371.40 L586.75,371.40 L587.00,371.40 L587.25,371.40 L587.50,371.40 L587.75,371.40 L588.00,371.40 L588.25,371.40 L588.50,371.40 L588.75,371.40 L589.00,371.40 L589.25,371.40 L589.50,371.40 L589.75,371.40 L590.00,371.40 L590.25,371.40 L590.50,371.40 L590.75,371.40 L591.00,371.40 L591.25,371.40 L591.50,371.40 L591.75,371.40 L592.00,371.40 L592.25,371.40 L592.50,371.40 L592.75,371.40 L593.00,371.40 L593.25,371.40 L593.50,371.40 L593.75,371.40 L594.00,371.40 L594.25,371.40 L594.50,371.40 L594.75,371.40 L595.00,371.40 L595.25,371.40 L595.50,371.40 L595.75,371.40 L596.00,371.40 L596.25,371.40 L596.50,371.40 L596.75,371.40 L597.00,371.40 L597.25,371.40 L597.50,371.40 L597.75,371.40 L598.00,371.40 L598.25,371.40 L598.50,371.40 L598.75,371.40 L599.00,371.40 L599.25,371.40 L599.50,371.40 L599.75,371.40 L600.00,371.40 L600.25,371.40 L600.50,371.40 L600.75,371.40 L601.00,371.40 L601.25,371.40 L601.50,371.40 L601.75,371.40 L602.00,371.40 L602.25,371.40 L602.50,371.40 L602.75,371.40 L603.00,371.40 L603.25,371.40 L603.50,371.40 L603.75,371.40 L604.00,371.40 L604.25,371.40 L604.50,371.40 L604.75,371.40 L605.00,371.40 L605.25,371.40 L605.50,371.40 L605.75,371.40 L606.00,371.40 L606.25,371.40 L606.50,371.40 L606.75,371.40 L607.00,371.40 L607.25,371.40 L607.50,371.40 L607.75,371.40 L608.00,371.40 L608.25,371.40 L608.50,371.40 L608.75,371.40 L609.00,371.40 L609.25,371.40 L609.50,371.40 L609.75,371.40 L610.00,371.40 L610.25,371.40 L610.50,371.40 L610.75,371.40 L611.00,371.40 L611.25,371.40 L611.50,371.40 L611.75,371.40 L612.00,371.40 L612.25,371.40 L612.50,371.40 L612.75,371.40 L613.00,371.40 L613.25,371.40 L613.50,371.40 L613.75,371.40 L614.00,371.40 L614.25,371.40 L614.50,371.40 L614.75,371.40 L615.00,371.40 L615.25,371.40 L615.50,371.40 L615.75,371.40 L616.00,371.40 L616.25,371.40 L616.50,371.40 L616.75,371.40 L617.00,371.40 L617.25,371.40 L617.50,371.40 L617.75,371.40 L618.00,371.40 L618.25,371.40 L618.50,371.40 L618.75,371.40 L619.00,371.40 L619.25,371.40 L619.50,371.40 L619.75,371.40 L620.00,371.40 L620.25,371.40 L620.50,371.40 L620.75,371.40 L621.00,371.40 L621.25,371.40 L621.50,371.40 L621.75,371.40 L622.00,371.40 L622.25,371.40 L622.50,371.40 L622.75,371.40 L623.00,371.40 L623.25,371.40 L623.50,371.40 L623.75,371.40 L624.00,371.40 L624.25,371.40 L624.50,371.40 L624.75,371.40 L625.00,371.40 L625.25,371.40 L625.50,371.40 L625.75,371.40 L626.00,371.40 L626.25,371.40 L626.50,371.40 L626.75,371.40 L627.00,371.40 L627.25,371.40 L627.50,371.40 L627.75,371.40 L628.00,371.40 L628.25,371.40 L628.50,371.40 L628.75,371.40 L629.00,371.40 L629.25,371.40 L629.50,371.40 L629.75,371.40 L630.00,371.40 L630.25,371.40 L630.50,371.40 L630.75,371.40 L631.00,371.40 L631.25,371.40 L631.50,371.40 L631.75,371.40 L632.00,371.40 L632.25,371.40 L632.50,371.40 L632.75,371.40 L633.00,371.40 L633.25,371.40 L633.50,371.40 L633.75,371.40 L634.00,371.40 L634.25,371.40 L634.50,371.40 L634.75,371.40 L635.00,371.40 L635.25,371.40 L635.50,371.40 L635.75,371.40 L636.00,371.40 L636.25,371.40 L636.50,371.40 L636.75,371.40 L637.00,371.40 L637.25,371.40 L637.50,371.40 L637.75,371.40 L638.00,371.40 L638.25,371.40 L638.50,371.40 L638.75,371.40 L639.00,371.40 L639.25,371.40 L639.50,371.40 L639.75,371.40 L640.00,371.40 L640.25,371.40 L640.50,371.40 L640.75,371.40 L641.00,371.40 L641.25,371.40 L641.50,371.40 L641.75,371.40 L642.00,371.40 L642.25,371.40 L642.50,371.40 L642.75,371.40 L643.00,371.40 L643.25,371.40 L643.50,371.40 L643.75,371.40 L644.00,371.40 L644.25,371.40 L644.50,371.40 L644.75,371.40 L645.00,371.40 L645.25,371.40 L645.50,371.40 L645.75,371.40 L646.00,371.40 L646.25,371.40 L646.50,371.40 L646.75,371.40 L647.00,371.40 L647.25,371.40 L647.50,371.40 L647.75,371.40 L648.00,371.40 L648.25,371.40 L648.50,371.40 L648.75,371.40 L649.00,371.40 L649.25,371.40 L649.50,371.40 L649.75,371.40 L650.00,371.40 L650.25,371.40 L650.50,371.40 L650.75,371.40 L651.00,371.40 L651.25,371.40 L651.50,371.40 L651.75,371.40 L652.00,371.40 L652.25,371.40 L652.50,371.40 L652.75,371.40 L653.00,371.40 L653.25,371.40 L653.50,371.40 L653.75,371.40 L654.00,371.40 L654.25,371.40 L654.50,371.40 L654.75,371.40 L655.00,371.40 L655.25,371.40 L655.50,371.40 L655.75,371.40 L656.00,371.40 L656.25,371.40 L656.50,371.40 L656.75,371.40 L657.00,371.40 L657.25,371.40 L657.50,371.40 L657.75,371.40 L658.00,371.40 L658.25,371.40 L658.50,371.40 L658.75,371.40 L659.00,371.40 L659.25,371.40 L659.50,371.40 L659.75,371.40 L660.00,371.40 L660.25,371.40 L660.50,371.40 L660.75,371.40 L661.00,371.40 L661.25,371.40 L661.50,371.40 L661.75,371.40 L662.00,371.40 L662.25,371.40 L662.50,371.40 L662.75,371.40 L663.00,371.40 L663.25,371.40 L663.50,371.40 L663.75,371.40 L664.00,371.40 L664.25,371.40 L664.50,371.40 L664.75,371.40 L665.00,371.40 L665.25,371.40 L665.50,371.40 L665.75,371.40 L666.00,371.40 L666.25,371.40 L666.50,371.40 L666.75,371.40 L667.00,371.40 L667.25,371.40 L667.50,371.40 L667.75,371.40 L668.00,371.40 L668.25,371.40 L668.50,371.40 L668.75,371.40 L669.00,371.40 L669.25,371.40 L669.50,371.40 L669.75,371.40 L670.00,371.40 L670.25,371.40 L670.50,371.40 L670.75,371.40 L671.00,371.40 L671.25,371.40 L671.50,371.40 L671.75,371.40 L672.00,371.40 L672.25,371.40 L672.50,371.40 L672.75,371.40 L673.00,371.40 L673.25,371.40 L673.50,371.40 L673.75,371.40 L674.00,371.40 L674.25,371.40 L674.50,371.40 L674.75,371.40 L675.00,371.40 L675.25,371.40 L675.50,371.40 L675.75,371.40 L676.00,371.40 L676.25,371.40 L676.50,371.40 L676.75,371.40 L677.00,371.40 L677.25,371.40 L677.50,371.40 L677.75,371.40 L678.00,371.40 L678.25,371.40 L678.50,371.40 L678.75,371.40 L679.00,371.40 L679.25,371.40 L679.50,371.40 L679.75,371.40 L680.00,371.40 L680.25,371.40 L680.50,371.40 L680.75,371.40 L681.00,371.40 L681.25,371.40 L681.50,371.40 L681.75,371.40 L682.00,371.40 L682.25,371.40 L682.50,371.40 L682.75,371.40 L683.00,371.40 L683.25,371.40 L683.50,371.40 L683.50,371.40 Z" fill="#e6ebed"/>
<path d="M71.50,368.00 L72.00,368.00 L72.50,368.03 L73.00,368.09 L73.50,368.18 L74.00,368.29 L74.50,368.42 L75.00,368.58 L75.50,368.76 L76.00,368.95 L76.50,369.17 L77.00,369.39 L77.50,369.64 L78.00,369.89 L78.50,370.16 L79.00,370.43 L79.50,370.71 L80.00,371.00 L80.50,371.29 L81.00,371.59 L81.50,371.88 L82.00,372.17 L82.50,372.47 L83.00,372.75 L83.50,373.03 L84.00,373.31 L84.50,373.57 L85.00,373.83 L85.50,374.07 L86.00,374.30 L86.50,374.51 L87.00,374.71 L87.50,374.90 L88.00,375.07 L88.50,375.22 L89.00,375.37 L89.50,375.50 L90.00,375.62 L90.50,375.73 L91.00,375.83 L91.50,375.92 L92.00,376.00 L92.50,376.07 L93.00,376.13 L93.50,376.19 L94.00,376.24 L94.50,376.28 L95.00,376.31 L95.50,376.34 L96.00,376.37 L96.50,376.38 L97.00,376.40 L97.50,376.41 L98.00,376.42 L98.50,376.42 L99.00,376.41 L99.50,376.40 L100.00,376.38 L100.50,376.35 L101.00,376.31 L101.50,376.26 L102.00,376.20 L102.50,376.13 L103.00,376.04 L103.50,375.94 L104.00,375.83 L104.50,375.71 L105.00,375.58 L105.50,375.45 L106.00,375.30 L106.50,375.15 L107.00,375.00 L107.50,374.83 L108.00,374.67 L108.50,374.50 L109.00,374.32 L109.50,374.14 L110.00,373.96 L110.50,373.78 L111.00,373.59 L111.50,373.40 L112.00,373.21 L112.50,373.01 L113.00,372.81 L113.50,372.61 L114.00,372.41 L114.50,372.21 L115.00,372.00 L115.50,371.79 L116.00,371.58 L116.50,371.37 L117.00,371.16 L117.50,370.95 L118.00,370.73 L118.50,370.52 L119.00,370.30 L119.50,370.08 L120.00,369.87 L120.50,369.65 L121.00,369.43 L121.50,369.22 L122.00,369.00 L122.50,368.78 L123.00,368.57 L123.50,368.35 L124.00,368.14 L124.50,367.93 L125.00,367.72 L125.50,367.51 L126.00,367.30 L126.50,367.10 L127.00,366.89 L127.50,366.70 L128.00,366.50 L128.50,366.31 L129.00,366.12 L129.50,365.93 L130.00,365.75 L130.50,365.57 L131.00,365.40 L131.50,365.22 L132.00,365.05 L132.50,364.89 L133.00,364.72 L133.50,364.56 L134.00,364.40 L134.50,364.24 L135.00,364.09 L135.50,363.94 L136.00,363.79 L136.50,363.64 L137.00,363.50 L137.50,363.37 L138.00,363.24 L138.50,363.11 L139.00,363.00 L139.50,362.88 L140.00,362.78 L140.50,362.68 L141.00,362.58 L141.50,362.50 L142.00,362.42 L142.50,362.36 L143.00,362.29 L143.50,362.24 L144.00,362.20 L144.50,362.16 L145.00,362.13 L145.50,362.11 L146.00,362.10 L146.50,362.10 L147.00,362.10 L147.50,362.11 L148.00,362.12 L148.50,362.14 L149.00,362.17 L149.50,362.20 L150.00,362.24 L150.50,362.28 L151.00,362.33 L151.50,362.38 L152.00,362.43 L152.50,362.48 L153.00,362.54 L153.50,362.61 L154.00,362.68 L154.50,362.75 L155.00,362.83 L155.50,362.91 L156.00,363.00 L156.50,363.09 L157.00,363.19 L157.50,363.30 L158.00,363.40 L158.50,363.52 L159.00,363.63 L159.50,363.76 L160.00,363.88 L160.50,364.01 L161.00,364.14 L161.50,364.28 L162.00,364.42 L162.50,364.56 L163.00,364.70 L163.50,364.85 L164.00,364.99 L164.50,365.15 L165.00,365.30 L165.50,365.46 L166.00,365.61 L166.50,365.78 L167.00,365.94 L167.50,366.11 L168.00,366.28 L168.50,366.46 L169.00,366.63 L169.50,366.81 L170.00,367.00 L170.50,367.19 L171.00,367.38 L171.50,367.57 L172.00,367.77 L172.50,367.97 L173.00,368.16 L173.50,368.36 L174.00,368.56 L174.50,368.75 L175.00,368.94 L175.50,369.13 L176.00,369.31 L176.50,369.49 L177.00,369.66 L177.50,369.83 L178.00,369.99 L178.50,370.15 L179.00,370.30 L179.50,370.44 L180.00,370.57 L180.50,370.70 L181.00,370.81 L181.50,370.92 L182.00,371.02 L182.50,371.12 L183.00,371.20 L183.50,371.27 L184.00,371.34 L184.50,371.39 L185.00,371.43 L185.50,371.46 L186.00,371.48 L186.50,371.48 L187.00,371.47 L187.50,371.44 L188.00,371.40 L188.50,371.34 L189.00,371.27 L189.50,371.18 L190.00,371.08 L190.50,370.97 L191.00,370.85 L191.50,370.73 L192.00,370.60 L192.50,370.47 L193.00,370.32 L193.50,370.16 L194.00,369.99 L194.50,369.79 L195.00,369.56 L195.50,369.30 L196.00,369.00 L196.50,368.66 L197.00,368.28 L197.50,367.85 L198.00,367.40 L198.50,366.90 L199.00,366.38 L199.50,365.82 L200.00,365.24 L200.50,364.63 L201.00,364.00 L201.50,363.35 L202.00,362.68 L202.50,361.99 L203.00,361.29 L203.50,360.58 L204.00,359.87 L204.50,359.15 L205.00,358.43 L205.50,357.71 L206.00,357.00 L206.50,356.30 L207.00,355.60 L207.50,354.90 L208.00,354.21 L208.50,353.52 L209.00,352.83 L209.50,352.13 L210.00,351.43 L210.50,350.72 L211.00,350.00 L211.50,349.27 L212.00,348.53 L212.50,347.77 L213.00,347.00 L213.50,346.22 L214.00,345.41 L214.50,344.59 L215.00,343.75 L215.50,342.88 L216.00,342.00 L216.50,341.09 L217.00,340.16 L217.50,339.21 L218.00,338.24 L218.50,337.24 L219.00,336.23 L219.50,335.20 L220.00,334.15 L220.50,333.08 L221.00,332.00 L221.50,330.90 L222.00,329.79 L222.50,328.67 L223.00,327.55 L223.50,326.43 L224.00,325.32 L224.50,324.21 L225.00,323.12 L225.50,322.05 L226.00,321.00 L226.50,319.97 L227.00,318.97 L227.50,317.98 L228.00,316.99 L228.50,316.01 L229.00,315.02 L229.50,314.02 L230.00,313.00 L230.50,311.96 L231.00,310.90 L231.50,309.82 L232.00,308.74 L232.50,307.65 L233.00,306.56 L233.50,305.48 L234.00,304.42 L234.50,303.37 L235.00,302.34 L235.50,301.34 L236.00,300.38 L236.50,299.45 L237.00,298.56 L237.50,297.71 L238.00,296.89 L238.50,296.10 L239.00,295.34 L239.50,294.60 L240.00,293.89 L240.50,293.20 L241.00,292.52 L241.50,291.86 L242.00,291.21 L242.50,290.57 L243.00,289.94 L243.50,289.31 L244.00,288.70 L244.50,288.09 L245.00,287.49 L245.50,286.90 L246.00,286.33 L246.50,285.77 L247.00,285.22 L247.50,284.69 L248.00,284.17 L248.50,283.67 L249.00,283.19 L249.50,282.72 L250.00,282.27 L250.50,281.85 L251.00,281.44 L251.50,281.05 L252.00,280.69 L252.50,280.35 L253.00,280.02 L253.50,279.73 L254.00,279.45 L254.50,279.20 L255.00,278.97 L255.50,278.77 L256.00,278.60 L256.50,278.47 L257.00,278.37 L257.50,278.31 L258.00,278.30 L258.50,278.33 L259.00,278.41 L259.50,278.53 L260.00,278.69 L260.50,278.88 L261.00,279.10 L261.50,279.35 L262.00,279.63 L262.50,279.94 L263.00,280.27 L263.50,280.63 L264.00,281.00 L264.50,281.41 L265.00,281.83 L265.50,282.28 L266.00,282.75 L266.50,283.24 L267.00,283.76 L267.50,284.29 L268.00,284.85 L268.50,285.44 L269.00,286.05 L269.50,286.68 L270.00,287.33 L270.50,288.00 L271.00,288.70 L271.50,289.41 L272.00,290.15 L272.50,290.91 L273.00,291.69 L273.50,292.48 L274.00,293.30 L274.50,294.13 L275.00,294.98 L275.50,295.85 L276.00,296.74 L276.50,297.64 L277.00,298.56 L277.50,299.50 L278.00,300.45 L278.50,301.42 L279.00,302.39 L279.50,303.38 L280.00,304.38 L280.50,305.39 L281.00,306.40 L281.50,307.41 L282.00,308.43 L282.50,309.45 L283.00,310.47 L283.50,311.49 L284.00,312.51 L284.50,313.52 L285.00,314.54 L285.50,315.58 L286.00,316.62 L286.50,317.69 L287.00,318.79 L287.50,319.91 L288.00,321.08 L288.50,322.29 L289.00,323.54 L289.50,324.85 L290.00,326.21 L290.50,327.59 L291.00,328.99 L291.50,330.40 L292.00,331.79 L292.50,333.17 L293.00,334.50 L293.50,335.79 L294.00,337.03 L294.50,338.23 L295.00,339.39 L295.50,340.52 L296.00,341.62 L296.50,342.70 L297.00,343.76 L297.50,344.81 L298.00,345.85 L298.50,346.88 L299.00,347.92 L299.50,348.96 L300.00,350.01 L300.50,351.07 L301.00,352.15 L301.50,353.22 L302.00,354.30 L302.50,355.36 L303.00,356.42 L303.50,357.47 L304.00,358.49 L304.50,359.49 L305.00,360.46 L305.50,361.40 L306.00,362.29 L306.50,363.15 L307.00,363.96 L307.50,364.71 L308.00,365.42 L308.50,366.09 L309.00,366.70 L309.50,367.28 L310.00,367.81 L310.50,368.30 L311.00,368.76 L311.50,369.19 L312.00,369.58 L312.50,369.94 L313.00,370.27 L313.50,370.57 L314.00,370.85 L314.50,371.11 L315.00,371.35 L315.50,371.55 L316.00,371.74 L316.50,371.90 L317.00,372.03 L317.50,372.13 L318.00,372.20 L318.50,372.24 L319.00,372.26 L319.50,372.24 L320.00,372.19 L320.50,372.10 L321.00,371.98 L321.50,371.83 L322.00,371.64 L322.50,371.41 L323.00,371.13 L323.50,370.82 L324.00,370.46 L324.50,370.06 L325.00,369.62 L325.50,369.12 L326.00,368.58 L326.50,367.98 L327.00,367.35 L327.50,366.67 L328.00,365.95 L328.50,365.19 L329.00,364.41 L329.50,363.59 L330.00,362.75 L330.50,361.88 L331.00,360.99 L331.50,360.09 L332.00,359.17 L332.50,358.24 L333.00,357.31 L333.50,356.36 L334.00,355.42 L334.50,354.48 L335.00,353.54 L335.50,352.59 L336.00,351.63 L336.50,350.67 L337.00,349.70 L337.50,348.71 L338.00,347.71 L338.50,346.69 L339.00,345.65 L339.50,344.58 L340.00,343.50 L340.50,342.39 L341.00,341.26 L341.50,340.11 L342.00,338.94 L342.50,337.75 L343.00,336.56 L343.50,335.35 L344.00,334.15 L344.50,332.93 L345.00,331.72 L345.50,330.52 L346.00,329.32 L346.50,328.12 L347.00,326.94 L347.50,325.77 L348.00,324.61 L348.50,323.46 L349.00,322.31 L349.50,321.17 L350.00,320.03 L350.50,318.90 L351.00,317.77 L351.50,316.65 L352.00,315.52 L352.50,314.40 L353.00,313.28 L353.50,312.16 L354.00,311.04 L354.50,309.93 L355.00,308.82 L355.50,307.73 L356.00,306.65 L356.50,305.58 L357.00,304.53 L357.50,303.49 L358.00,302.48 L358.50,301.49 L359.00,300.52 L359.50,299.58 L360.00,298.66 L360.50,297.76 L361.00,296.88 L361.50,296.02 L362.00,295.18 L362.50,294.35 L363.00,293.54 L363.50,292.74 L364.00,291.95 L364.50,291.17 L365.00,290.40 L365.50,289.64 L366.00,288.89 L366.50,288.15 L367.00,287.43 L367.50,286.72 L368.00,286.04 L368.50,285.38 L369.00,284.76 L369.50,284.16 L370.00,283.60 L370.50,283.07 L371.00,282.58 L371.50,282.14 L372.00,281.74 L372.50,281.38 L373.00,281.06 L373.50,280.78 L374.00,280.54 L374.50,280.34 L375.00,280.17 L375.50,280.03 L376.00,279.93 L376.50,279.86 L377.00,279.81 L377.50,279.80 L378.00,279.81 L378.50,279.86 L379.00,279.93 L379.50,280.03 L380.00,280.17 L380.50,280.34 L381.00,280.54 L381.50,280.78 L382.00,281.06 L382.50,281.38 L383.00,281.74 L383.50,282.14 L384.00,282.58 L384.50,283.07 L385.00,283.60 L385.50,284.16 L386.00,284.76 L386.50,285.38 L387.00,286.04 L387.50,286.72 L388.00,287.43 L388.50,288.15 L389.00,288.89 L389.50,289.64 L390.00,290.40 L390.50,291.17 L391.00,291.95 L391.50,292.74 L392.00,293.54 L392.50,294.35 L393.00,295.18 L393.50,296.02 L394.00,296.88 L394.50,297.76 L395.00,298.66 L395.50,299.58 L396.00,300.52 L396.50,301.49 L397.00,302.48 L397.50,303.49 L398.00,304.53 L398.50,305.58 L399.00,306.65 L399.50,307.73 L400.00,308.82 L400.50,309.93 L401.00,311.04 L401.50,312.16 L402.00,313.28 L402.50,314.40 L403.00,315.52 L403.50,316.65 L404.00,317.77 L404.50,318.90 L405.00,320.03 L405.50,321.17 L406.00,322.31 L406.50,323.46 L407.00,324.61 L407.50,325.77 L408.00,326.94 L408.50,328.12 L409.00,329.32 L409.50,330.52 L410.00,331.72 L410.50,332.93 L411.00,334.15 L411.50,335.35 L412.00,336.56 L412.50,337.75 L413.00,338.94 L413.50,340.11 L414.00,341.26 L414.50,342.39 L415.00,343.50 L415.50,344.58 L416.00,345.65 L416.50,346.69 L417.00,347.71 L417.50,348.71 L418.00,349.70 L418.50,350.67 L419.00,351.63 L419.50,352.59 L420.00,353.54 L420.50,354.48 L421.00,355.42 L421.50,356.36 L422.00,357.31 L422.50,358.24 L423.00,359.17 L423.50,360.09 L424.00,360.99 L424.50,361.88 L425.00,362.75 L425.50,363.59 L426.00,364.41 L426.50,365.19 L427.00,365.95 L427.50,366.67 L428.00,367.35 L428.50,367.98 L429.00,368.58 L429.50,369.12 L430.00,369.62 L430.50,370.06 L431.00,370.46 L431.50,370.82 L432.00,371.13 L432.50,371.41 L433.00,371.64 L433.50,371.83 L434.00,371.98 L434.50,372.10 L435.00,372.19 L435.50,372.24 L436.00,372.26 L436.50,372.24 L437.00,372.20 L437.50,372.13 L438.00,372.03 L438.50,371.90 L439.00,371.74 L439.50,371.55 L440.00,371.35 L440.50,371.11 L441.00,370.85 L441.50,370.57 L442.00,370.27 L442.50,369.94 L443.00,369.58 L443.50,369.19 L444.00,368.76 L444.50,368.30 L445.00,367.81 L445.50,367.28 L446.00,366.70 L446.50,366.09 L447.00,365.42 L447.50,364.71 L448.00,363.96 L448.50,363.15 L449.00,362.29 L449.50,361.40 L450.00,360.46 L450.50,359.49 L451.00,358.49 L451.50,357.47 L452.00,356.42 L452.50,355.36 L453.00,354.30 L453.50,353.22 L454.00,352.15 L454.50,351.07 L455.00,350.01 L455.50,348.96 L456.00,347.92 L456.50,346.88 L457.00,345.85 L457.50,344.81 L458.00,343.76 L458.50,342.70 L459.00,341.62 L459.50,340.52 L460.00,339.39 L460.50,338.23 L461.00,337.03 L461.50,335.79 L462.00,334.50 L462.50,333.17 L463.00,331.79 L463.50,330.40 L464.00,328.99 L464.50,327.59 L465.00,326.21 L465.50,324.85 L466.00,323.54 L466.50,322.29 L467.00,321.08 L467.50,319.91 L468.00,318.79 L468.50,317.69 L469.00,316.62 L469.50,315.58 L470.00,314.54 L470.50,313.52 L471.00,312.51 L471.50,311.49 L472.00,310.47 L472.50,309.45 L473.00,308.43 L473.50,307.41 L474.00,306.40 L474.50,305.39 L475.00,304.38 L475.50,303.38 L476.00,302.39 L476.50,301.42 L477.00,300.45 L477.50,299.50 L478.00,298.56 L478.50,297.64 L479.00,296.74 L479.50,295.85 L480.00,294.98 L480.50,294.13 L481.00,293.30 L481.50,292.48 L482.00,291.69 L482.50,290.91 L483.00,290.15 L483.50,289.41 L484.00,288.70 L484.50,288.00 L485.00,287.33 L485.50,286.68 L486.00,286.05 L486.50,285.44 L487.00,284.85 L487.50,284.29 L488.00,283.76 L488.50,283.24 L489.00,282.75 L489.50,282.28 L490.00,281.83 L490.50,281.41 L491.00,281.00 L491.50,280.63 L492.00,280.27 L492.50,279.94 L493.00,279.63 L493.50,279.35 L494.00,279.10 L494.50,278.88 L495.00,278.69 L495.50,278.53 L496.00,278.41 L496.50,278.33 L497.00,278.30 L497.50,278.31 L498.00,278.37 L498.50,278.47 L499.00,278.60 L499.50,278.77 L500.00,278.97 L500.50,279.20 L501.00,279.45 L501.50,279.73 L502.00,280.02 L502.50,280.35 L503.00,280.69 L503.50,281.05 L504.00,281.44 L504.50,281.85 L505.00,282.27 L505.50,282.72 L506.00,283.19 L506.50,283.67 L507.00,284.17 L507.50,284.69 L508.00,285.22 L508.50,285.77 L509.00,286.33 L509.50,286.90 L510.00,287.49 L510.50,288.09 L511.00,288.70 L511.50,289.31 L512.00,289.94 L512.50,290.57 L513.00,291.21 L513.50,291.86 L514.00,292.52 L514.50,293.20 L515.00,293.89 L515.50,294.60 L516.00,295.34 L516.50,296.10 L517.00,296.89 L517.50,297.71 L518.00,298.56 L518.50,299.45 L519.00,300.38 L519.50,301.34 L520.00,302.34 L520.50,303.37 L521.00,304.42 L521.50,305.48 L522.00,306.56 L522.50,307.65 L523.00,308.74 L523.50,309.82 L524.00,310.90 L524.50,311.96 L525.00,313.00 L525.50,314.02 L526.00,315.02 L526.50,316.01 L527.00,316.99 L527.50,317.98 L528.00,318.97 L528.50,319.97 L529.00,321.00 L529.50,322.05 L530.00,323.12 L530.50,324.21 L531.00,325.32 L531.50,326.43 L532.00,327.55 L532.50,328.67 L533.00,329.79 L533.50,330.90 L534.00,332.00 L534.50,333.08 L535.00,334.15 L535.50,335.20 L536.00,336.23 L536.50,337.24 L537.00,338.24 L537.50,339.21 L538.00,340.16 L538.50,341.09 L539.00,342.00 L539.50,342.88 L540.00,343.75 L540.50,344.59 L541.00,345.41 L541.50,346.22 L542.00,347.00 L542.50,347.77 L543.00,348.53 L543.50,349.27 L544.00,350.00 L544.50,350.72 L545.00,351.43 L545.50,352.13 L546.00,352.83 L546.50,353.52 L547.00,354.21 L547.50,354.90 L548.00,355.60 L548.50,356.30 L549.00,357.00 L549.50,357.71 L550.00,358.43 L550.50,359.15 L551.00,359.87 L551.50,360.58 L552.00,361.29 L552.50,361.99 L553.00,362.68 L553.50,363.35 L554.00,364.00 L554.50,364.63 L555.00,365.24 L555.50,365.82 L556.00,366.38 L556.50,366.90 L557.00,367.40 L557.50,367.85 L558.00,368.28 L558.50,368.66 L559.00,369.00 L559.50,369.30 L560.00,369.56 L560.50,369.79 L561.00,369.99 L561.50,370.16 L562.00,370.32 L562.50,370.47 L563.00,370.60 L563.50,370.73 L564.00,370.85 L564.50,370.97 L565.00,371.08 L565.50,371.18 L566.00,371.27 L566.50,371.34 L567.00,371.40 L567.50,371.44 L568.00,371.47 L568.50,371.48 L569.00,371.48 L569.50,371.46 L570.00,371.43 L570.50,371.39 L571.00,371.34 L571.50,371.27 L572.00,371.20 L572.50,371.12 L573.00,371.02 L573.50,370.92 L574.00,370.81 L574.50,370.70 L575.00,370.57 L575.50,370.44 L576.00,370.30 L576.50,370.15 L577.00,369.99 L577.50,369.83 L578.00,369.66 L578.50,369.49 L579.00,369.31 L579.50,369.13 L580.00,368.94 L580.50,368.75 L581.00,368.56 L581.50,368.36 L582.00,368.16 L582.50,367.97 L583.00,367.77 L583.50,367.57 L584.00,367.38 L584.50,367.19 L585.00,367.00 L585.50,366.81 L586.00,366.63 L586.50,366.46 L587.00,366.28 L587.50,366.11 L588.00,365.94 L588.50,365.78 L589.00,365.61 L589.50,365.46 L590.00,365.30 L590.50,365.15 L591.00,364.99 L591.50,364.85 L592.00,364.70 L592.50,364.56 L593.00,364.42 L593.50,364.28 L594.00,364.14 L594.50,364.01 L595.00,363.88 L595.50,363.76 L596.00,363.63 L596.50,363.52 L597.00,363.40 L597.50,363.30 L598.00,363.19 L598.50,363.09 L599.00,363.00 L599.50,362.91 L600.00,362.83 L600.50,362.75 L601.00,362.68 L601.50,362.61 L602.00,362.54 L602.50,362.48 L603.00,362.43 L603.50,362.38 L604.00,362.33 L604.50,362.28 L605.00,362.24 L605.50,362.20 L606.00,362.17 L606.50,362.14 L607.00,362.12 L607.50,362.11 L608.00,362.10 L608.50,362.10 L609.00,362.10 L609.50,362.11 L610.00,362.13 L610.50,362.16 L611.00,362.20 L611.50,362.24 L612.00,362.29 L612.50,362.36 L613.00,362.42 L613.50,362.50 L614.00,362.58 L614.50,362.68 L615.00,362.78 L615.50,362.88 L616.00,363.00 L616.50,363.11 L617.00,363.24 L617.50,363.37 L618.00,363.50 L618.50,363.64 L619.00,363.79 L619.50,363.94 L620.00,364.09 L620.50,364.24 L621.00,364.40 L621.50,364.56 L622.00,364.72 L622.50,364.89 L623.00,365.05 L623.50,365.22 L624.00,365.40 L624.50,365.57 L625.00,365.75 L625.50,365.93 L626.00,366.12 L626.50,366.31 L627.00,366.50 L627.50,366.70 L628.00,366.89 L628.50,367.10 L629.00,367.30 L629.50,367.51 L630.00,367.72 L630.50,367.93 L631.00,368.14 L631.50,368.35 L632.00,368.57 L632.50,368.78 L633.00,369.00 L633.50,369.22 L634.00,369.43 L634.50,369.65 L635.00,369.87 L635.50,370.08 L636.00,370.30 L636.50,370.52 L637.00,370.73 L637.50,370.95 L638.00,371.16 L638.50,371.37 L639.00,371.58 L639.50,371.79 L640.00,372.00 L640.50,372.21 L641.00,372.41 L641.50,372.61 L642.00,372.81 L642.50,373.01 L643.00,373.21 L643.50,373.40 L644.00,373.59 L644.50,373.78 L645.00,373.96 L645.50,374.14 L646.00,374.32 L646.50,374.50 L647.00,374.67 L647.50,374.83 L648.00,375.00 L648.50,375.15 L649.00,375.30 L649.50,375.45 L650.00,375.58 L650.50,375.71 L651.00,375.83 L651.50,375.94 L652.00,376.04 L652.50,376.13 L653.00,376.20 L653.50,376.26 L654.00,376.31 L654.50,376.35 L655.00,376.38 L655.50,376.40 L656.00,376.41 L656.50,376.42 L657.00,376.42 L657.50,376.41 L658.00,376.40 L658.50,376.38 L659.00,376.37 L659.50,376.34 L660.00,376.31 L660.50,376.28 L661.00,376.24 L661.50,376.19 L662.00,376.13 L662.50,376.07 L663.00,376.00 L663.50,375.92 L664.00,375.83 L664.50,375.73 L665.00,375.62 L665.50,375.50 L666.00,375.37 L666.50,375.22 L667.00,375.07 L667.50,374.90 L668.00,374.71 L668.50,374.51 L669.00,374.30 L669.50,374.07 L670.00,373.83 L670.50,373.57 L671.00,373.31 L671.50,373.03 L672.00,372.75 L672.50,372.47 L673.00,372.17 L673.50,371.88 L674.00,371.59 L674.50,371.29 L675.00,371.00 L675.50,370.71 L676.00,370.43 L676.50,370.16 L677.00,369.89 L677.50,369.64 L678.00,369.39 L678.50,369.17 L679.00,368.95 L679.50,368.76 L680.00,368.58 L680.50,368.42 L681.00,368.29 L681.50,368.18 L682.00,368.09 L682.50,368.03 L683.00,368.00 L683.50,368.00" fill="none" stroke="#272a36" stroke-width="2.9" stroke-dasharray="10 4.5" stroke-dashoffset="-1.5"/>
<path d="M71.50,375.80 L72.00,375.61 L72.50,375.41 L73.00,375.20 L73.50,374.99 L74.00,374.78 L74.50,374.56 L75.00,374.34 L75.50,374.11 L76.00,373.89 L76.50,373.65 L77.00,373.42 L77.50,373.18 L78.00,372.94 L78.50,372.70 L79.00,372.45 L79.50,372.20 L80.00,371.96 L80.50,371.71 L81.00,371.46 L81.50,371.21 L82.00,370.96 L82.50,370.71 L83.00,370.46 L83.50,370.22 L84.00,369.97 L84.50,369.72 L85.00,369.48 L85.50,369.24 L86.00,369.00 L86.50,368.76 L87.00,368.52 L87.50,368.29 L88.00,368.06 L88.50,367.84 L89.00,367.62 L89.50,367.40 L90.00,367.19 L90.50,366.98 L91.00,366.78 L91.50,366.58 L92.00,366.39 L92.50,366.21 L93.00,366.03 L93.50,365.87 L94.00,365.70 L94.50,365.55 L95.00,365.40 L95.50,365.27 L96.00,365.14 L96.50,365.02 L97.00,364.91 L97.50,364.82 L98.00,364.73 L98.50,364.64 L99.00,364.57 L99.50,364.51 L100.00,364.45 L100.50,364.40 L101.00,364.35 L101.50,364.32 L102.00,364.29 L102.50,364.26 L103.00,364.24 L103.50,364.22 L104.00,364.21 L104.50,364.20 L105.00,364.20 L105.50,364.20 L106.00,364.20 L106.50,364.20 L107.00,364.22 L107.50,364.23 L108.00,364.26 L108.50,364.29 L109.00,364.32 L109.50,364.36 L110.00,364.41 L110.50,364.47 L111.00,364.53 L111.50,364.61 L112.00,364.69 L112.50,364.78 L113.00,364.88 L113.50,364.99 L114.00,365.11 L114.50,365.23 L115.00,365.36 L115.50,365.50 L116.00,365.64 L116.50,365.79 L117.00,365.93 L117.50,366.08 L118.00,366.23 L118.50,366.38 L119.00,366.53 L119.50,366.68 L120.00,366.83 L120.50,366.97 L121.00,367.11 L121.50,367.25 L122.00,367.38 L122.50,367.50 L123.00,367.63 L123.50,367.75 L124.00,367.88 L124.50,368.00 L125.00,368.12 L125.50,368.24 L126.00,368.36 L126.50,368.48 L127.00,368.60 L127.50,368.72 L128.00,368.85 L128.50,368.98 L129.00,369.10 L129.50,369.23 L130.00,369.35 L130.50,369.48 L131.00,369.60 L131.50,369.73 L132.00,369.85 L132.50,369.96 L133.00,370.08 L133.50,370.19 L134.00,370.30 L134.50,370.40 L135.00,370.50 L135.50,370.59 L136.00,370.68 L136.50,370.77 L137.00,370.84 L137.50,370.92 L138.00,370.99 L138.50,371.06 L139.00,371.12 L139.50,371.18 L140.00,371.23 L140.50,371.28 L141.00,371.33 L141.50,371.38 L142.00,371.42 L142.50,371.46 L143.00,371.50 L143.50,371.54 L144.00,371.57 L144.50,371.60 L145.00,371.63 L145.50,371.66 L146.00,371.68 L146.50,371.70 L147.00,371.72 L147.50,371.74 L148.00,371.76 L148.50,371.77 L149.00,371.78 L149.50,371.79 L150.00,371.80 L150.50,371.80 L151.00,371.80 L151.50,371.80 L152.00,371.80 L152.50,371.79 L153.00,371.79 L153.50,371.78 L154.00,371.76 L154.50,371.74 L155.00,371.72 L155.50,371.70 L156.00,371.66 L156.50,371.63 L157.00,371.59 L157.50,371.54 L158.00,371.48 L158.50,371.42 L159.00,371.36 L159.50,371.28 L160.00,371.20 L160.50,371.11 L161.00,371.01 L161.50,370.90 L162.00,370.79 L162.50,370.66 L163.00,370.52 L163.50,370.38 L164.00,370.22 L164.50,370.05 L165.00,369.86 L165.50,369.67 L166.00,369.46 L166.50,369.24 L167.00,369.00 L167.50,368.75 L168.00,368.49 L168.50,368.21 L169.00,367.93 L169.50,367.64 L170.00,367.34 L170.50,367.05 L171.00,366.74 L171.50,366.44 L172.00,366.14 L172.50,365.85 L173.00,365.56 L173.50,365.27 L174.00,365.00 L174.50,364.74 L175.00,364.48 L175.50,364.25 L176.00,364.02 L176.50,363.81 L177.00,363.61 L177.50,363.43 L178.00,363.27 L178.50,363.12 L179.00,362.99 L179.50,362.89 L180.00,362.80 L180.50,362.73 L181.00,362.69 L181.50,362.67 L182.00,362.67 L182.50,362.69 L183.00,362.73 L183.50,362.80 L184.00,362.89 L184.50,363.01 L185.00,363.15 L185.50,363.31 L186.00,363.50 L186.50,363.71 L187.00,363.95 L187.50,364.20 L188.00,364.47 L188.50,364.75 L189.00,365.04 L189.50,365.34 L190.00,365.63 L190.50,365.93 L191.00,366.23 L191.50,366.52 L192.00,366.80 L192.50,367.07 L193.00,367.32 L193.50,367.55 L194.00,367.76 L194.50,367.94 L195.00,368.09 L195.50,368.20 L196.00,368.28 L196.50,368.31 L197.00,368.30 L197.50,368.24 L198.00,368.13 L198.50,367.96 L199.00,367.74 L199.50,367.46 L200.00,367.12 L200.50,366.72 L201.00,366.26 L201.50,365.73 L202.00,365.13 L202.50,364.47 L203.00,363.75 L203.50,362.97 L204.00,362.15 L204.50,361.27 L205.00,360.36 L205.50,359.41 L206.00,358.43 L206.50,357.43 L207.00,356.41 L207.50,355.37 L208.00,354.31 L208.50,353.24 L209.00,352.16 L209.50,351.05 L210.00,349.93 L210.50,348.79 L211.00,347.64 L211.50,346.46 L212.00,345.26 L212.50,344.05 L213.00,342.81 L213.50,341.56 L214.00,340.30 L214.50,339.04 L215.00,337.80 L215.50,336.57 L216.00,335.37 L216.50,334.20 L217.00,333.08 L217.50,332.01 L218.00,331.00 L218.50,330.06 L219.00,329.18 L219.50,328.36 L220.00,327.59 L220.50,326.88 L221.00,326.21 L221.50,325.59 L222.00,325.00 L222.50,324.45 L223.00,323.93 L223.50,323.44 L224.00,322.99 L224.50,322.57 L225.00,322.18 L225.50,321.83 L226.00,321.50 L226.50,321.21 L227.00,320.95 L227.50,320.74 L228.00,320.57 L228.50,320.46 L229.00,320.40 L229.50,320.42 L230.00,320.50 L230.50,320.66 L231.00,320.87 L231.50,321.13 L232.00,321.42 L232.50,321.72 L233.00,322.01 L233.50,322.27 L234.00,322.50 L234.50,322.67 L235.00,322.78 L235.50,322.83 L236.00,322.82 L236.50,322.75 L237.00,322.60 L237.50,322.38 L238.00,322.10 L238.50,321.73 L239.00,321.27 L239.50,320.73 L240.00,320.08 L240.50,319.34 L241.00,318.50 L241.50,317.56 L242.00,316.53 L242.50,315.41 L243.00,314.22 L243.50,312.95 L244.00,311.62 L244.50,310.23 L245.00,308.79 L245.50,307.31 L246.00,305.78 L246.50,304.22 L247.00,302.62 L247.50,301.00 L248.00,299.35 L248.50,297.67 L249.00,295.97 L249.50,294.25 L250.00,292.52 L250.50,290.76 L251.00,289.00 L251.50,287.23 L252.00,285.45 L252.50,283.69 L253.00,281.94 L253.50,280.22 L254.00,278.54 L254.50,276.91 L255.00,275.33 L255.50,273.82 L256.00,272.39 L256.50,271.04 L257.00,269.78 L257.50,268.61 L258.00,267.54 L258.50,266.57 L259.00,265.68 L259.50,264.89 L260.00,264.20 L260.50,263.60 L261.00,263.12 L261.50,262.76 L262.00,262.55 L262.50,262.50 L263.00,262.61 L263.50,262.86 L264.00,263.22 L264.50,263.68 L265.00,264.20 L265.50,264.78 L266.00,265.45 L266.50,266.26 L267.00,267.25 L267.50,268.48 L268.00,270.00 L268.50,271.83 L269.00,273.91 L269.50,276.17 L270.00,278.54 L270.50,280.93 L271.00,283.28 L271.50,285.50 L272.00,287.54 L272.50,289.41 L273.00,291.16 L273.50,292.81 L274.00,294.41 L274.50,295.99 L275.00,297.60 L275.50,299.25 L276.00,301.00 L276.50,302.87 L277.00,304.84 L277.50,306.88 L278.00,308.97 L278.50,311.09 L279.00,313.20 L279.50,315.28 L280.00,317.30 L280.50,319.24 L281.00,321.10 L281.50,322.86 L282.00,324.50 L282.50,326.02 L283.00,327.43 L283.50,328.73 L284.00,329.92 L284.50,331.00 L285.00,331.99 L285.50,332.88 L286.00,333.69 L286.50,334.41 L287.00,335.05 L287.50,335.61 L288.00,336.11 L288.50,336.53 L289.00,336.90 L289.50,337.20 L290.00,337.45 L290.50,337.65 L291.00,337.80 L291.50,337.91 L292.00,337.97 L292.50,338.00 L293.00,337.99 L293.50,337.95 L294.00,337.88 L294.50,337.78 L295.00,337.65 L295.50,337.50 L296.00,337.32 L296.50,337.13 L297.00,336.94 L297.50,336.76 L298.00,336.60 L298.50,336.47 L299.00,336.38 L299.50,336.32 L300.00,336.29 L300.50,336.30 L301.00,336.35 L301.50,336.44 L302.00,336.57 L302.50,336.76 L303.00,337.00 L303.50,337.30 L304.00,337.66 L304.50,338.06 L305.00,338.51 L305.50,338.99 L306.00,339.50 L306.50,340.03 L307.00,340.59 L307.50,341.18 L308.00,341.81 L308.50,342.46 L309.00,343.16 L309.50,343.90 L310.00,344.68 L310.50,345.49 L311.00,346.32 L311.50,347.16 L312.00,348.00 L312.50,348.84 L313.00,349.65 L313.50,350.44 L314.00,351.22 L314.50,352.00 L315.00,352.76 L315.50,353.53 L316.00,354.30 L316.50,355.08 L317.00,355.87 L317.50,356.66 L318.00,357.47 L318.50,358.28 L319.00,359.10 L319.50,359.93 L320.00,360.77 L320.50,361.59 L321.00,362.38 L321.50,363.12 L322.00,363.80 L322.50,364.40 L323.00,364.93 L323.50,365.39 L324.00,365.77 L324.50,366.10 L325.00,366.37 L325.50,366.58 L326.00,366.73 L326.50,366.84 L327.00,366.90 L327.50,366.91 L328.00,366.89 L328.50,366.82 L329.00,366.73 L329.50,366.61 L330.00,366.46 L330.50,366.30 L331.00,366.13 L331.50,365.95 L332.00,365.76 L332.50,365.56 L333.00,365.37 L333.50,365.17 L334.00,364.97 L334.50,364.77 L335.00,364.57 L335.50,364.38 L336.00,364.20 L336.50,364.03 L337.00,363.86 L337.50,363.71 L338.00,363.57 L338.50,363.44 L339.00,363.32 L339.50,363.22 L340.00,363.14 L340.50,363.08 L341.00,363.03 L341.50,363.00 L342.00,363.00 L342.50,363.02 L343.00,363.05 L343.50,363.11 L344.00,363.19 L344.50,363.28 L345.00,363.40 L345.50,363.53 L346.00,363.68 L346.50,363.84 L347.00,364.02 L347.50,364.22 L348.00,364.43 L348.50,364.66 L349.00,364.90 L349.50,365.15 L350.00,365.42 L350.50,365.68 L351.00,365.95 L351.50,366.22 L352.00,366.48 L352.50,366.72 L353.00,366.96 L353.50,367.17 L354.00,367.36 L354.50,367.53 L355.00,367.66 L355.50,367.76 L356.00,367.82 L356.50,367.83 L357.00,367.80 L357.50,367.72 L358.00,367.59 L358.50,367.41 L359.00,367.20 L359.50,366.94 L360.00,366.65 L360.50,366.33 L361.00,365.98 L361.50,365.60 L362.00,365.20 L362.50,364.78 L363.00,364.34 L363.50,363.90 L364.00,363.44 L364.50,362.97 L365.00,362.50 L365.50,362.03 L366.00,361.56 L366.50,361.10 L367.00,360.65 L367.50,360.21 L368.00,359.78 L368.50,359.37 L369.00,358.99 L369.50,358.63 L370.00,358.30 L370.50,358.00 L371.00,357.73 L371.50,357.48 L372.00,357.25 L372.50,357.04 L373.00,356.85 L373.50,356.66 L374.00,356.49 L374.50,356.33 L375.00,356.18 L375.50,356.05 L376.00,355.95 L376.50,355.87 L377.00,355.82 L377.50,355.80 L378.00,355.82 L378.50,355.87 L379.00,355.95 L379.50,356.05 L380.00,356.18 L380.50,356.33 L381.00,356.49 L381.50,356.66 L382.00,356.85 L382.50,357.04 L383.00,357.25 L383.50,357.48 L384.00,357.73 L384.50,358.00 L385.00,358.30 L385.50,358.63 L386.00,358.99 L386.50,359.37 L387.00,359.78 L387.50,360.21 L388.00,360.65 L388.50,361.10 L389.00,361.56 L389.50,362.03 L390.00,362.50 L390.50,362.97 L391.00,363.44 L391.50,363.90 L392.00,364.34 L392.50,364.78 L393.00,365.20 L393.50,365.60 L394.00,365.98 L394.50,366.33 L395.00,366.65 L395.50,366.94 L396.00,367.20 L396.50,367.41 L397.00,367.59 L397.50,367.72 L398.00,367.80 L398.50,367.83 L399.00,367.82 L399.50,367.76 L400.00,367.66 L400.50,367.53 L401.00,367.36 L401.50,367.17 L402.00,366.96 L402.50,366.72 L403.00,366.48 L403.50,366.22 L404.00,365.95 L404.50,365.68 L405.00,365.42 L405.50,365.15 L406.00,364.90 L406.50,364.66 L407.00,364.43 L407.50,364.22 L408.00,364.02 L408.50,363.84 L409.00,363.68 L409.50,363.53 L410.00,363.40 L410.50,363.28 L411.00,363.19 L411.50,363.11 L412.00,363.05 L412.50,363.02 L413.00,363.00 L413.50,363.00 L414.00,363.03 L414.50,363.08 L415.00,363.14 L415.50,363.22 L416.00,363.32 L416.50,363.44 L417.00,363.57 L417.50,363.71 L418.00,363.86 L418.50,364.03 L419.00,364.20 L419.50,364.38 L420.00,364.57 L420.50,364.77 L421.00,364.97 L421.50,365.17 L422.00,365.37 L422.50,365.56 L423.00,365.76 L423.50,365.95 L424.00,366.13 L424.50,366.30 L425.00,366.46 L425.50,366.61 L426.00,366.73 L426.50,366.82 L427.00,366.89 L427.50,366.91 L428.00,366.90 L428.50,366.84 L429.00,366.73 L429.50,366.58 L430.00,366.37 L430.50,366.10 L431.00,365.77 L431.50,365.39 L432.00,364.93 L432.50,364.40 L433.00,363.80 L433.50,363.12 L434.00,362.38 L434.50,361.59 L435.00,360.77 L435.50,359.93 L436.00,359.10 L436.50,358.28 L437.00,357.47 L437.50,356.66 L438.00,355.87 L438.50,355.08 L439.00,354.30 L439.50,353.53 L440.00,352.76 L440.50,352.00 L441.00,351.22 L441.50,350.44 L442.00,349.65 L442.50,348.84 L443.00,348.00 L443.50,347.16 L444.00,346.32 L444.50,345.49 L445.00,344.68 L445.50,343.90 L446.00,343.16 L446.50,342.46 L447.00,341.81 L447.50,341.18 L448.00,340.59 L448.50,340.03 L449.00,339.50 L449.50,338.99 L450.00,338.51 L450.50,338.06 L451.00,337.66 L451.50,337.30 L452.00,337.00 L452.50,336.76 L453.00,336.57 L453.50,336.44 L454.00,336.35 L454.50,336.30 L455.00,336.29 L455.50,336.32 L456.00,336.38 L456.50,336.47 L457.00,336.60 L457.50,336.76 L458.00,336.94 L458.50,337.13 L459.00,337.32 L459.50,337.50 L460.00,337.65 L460.50,337.78 L461.00,337.88 L461.50,337.95 L462.00,337.99 L462.50,338.00 L463.00,337.97 L463.50,337.91 L464.00,337.80 L464.50,337.65 L465.00,337.45 L465.50,337.20 L466.00,336.90 L466.50,336.53 L467.00,336.11 L467.50,335.61 L468.00,335.05 L468.50,334.41 L469.00,333.69 L469.50,332.88 L470.00,331.99 L470.50,331.00 L471.00,329.92 L471.50,328.73 L472.00,327.43 L472.50,326.02 L473.00,324.50 L473.50,322.86 L474.00,321.10 L474.50,319.24 L475.00,317.30 L475.50,315.28 L476.00,313.20 L476.50,311.09 L477.00,308.97 L477.50,306.88 L478.00,304.84 L478.50,302.87 L479.00,301.00 L479.50,299.25 L480.00,297.60 L480.50,295.99 L481.00,294.41 L481.50,292.81 L482.00,291.16 L482.50,289.41 L483.00,287.54 L483.50,285.50 L484.00,283.28 L484.50,280.93 L485.00,278.54 L485.50,276.17 L486.00,273.91 L486.50,271.83 L487.00,270.00 L487.50,268.48 L488.00,267.25 L488.50,266.26 L489.00,265.45 L489.50,264.78 L490.00,264.20 L490.50,263.68 L491.00,263.22 L491.50,262.86 L492.00,262.61 L492.50,262.50 L493.00,262.55 L493.50,262.76 L494.00,263.12 L494.50,263.60 L495.00,264.20 L495.50,264.89 L496.00,265.68 L496.50,266.57 L497.00,267.54 L497.50,268.61 L498.00,269.78 L498.50,271.04 L499.00,272.39 L499.50,273.82 L500.00,275.33 L500.50,276.91 L501.00,278.54 L501.50,280.22 L502.00,281.94 L502.50,283.69 L503.00,285.45 L503.50,287.23 L504.00,289.00 L504.50,290.76 L505.00,292.52 L505.50,294.25 L506.00,295.97 L506.50,297.67 L507.00,299.35 L507.50,301.00 L508.00,302.62 L508.50,304.22 L509.00,305.78 L509.50,307.31 L510.00,308.79 L510.50,310.23 L511.00,311.62 L511.50,312.95 L512.00,314.22 L512.50,315.41 L513.00,316.53 L513.50,317.56 L514.00,318.50 L514.50,319.34 L515.00,320.08 L515.50,320.73 L516.00,321.27 L516.50,321.73 L517.00,322.10 L517.50,322.38 L518.00,322.60 L518.50,322.75 L519.00,322.82 L519.50,322.83 L520.00,322.78 L520.50,322.67 L521.00,322.50 L521.50,322.27 L522.00,322.01 L522.50,321.72 L523.00,321.42 L523.50,321.13 L524.00,320.87 L524.50,320.66 L525.00,320.50 L525.50,320.42 L526.00,320.40 L526.50,320.46 L527.00,320.57 L527.50,320.74 L528.00,320.95 L528.50,321.21 L529.00,321.50 L529.50,321.83 L530.00,322.18 L530.50,322.57 L531.00,322.99 L531.50,323.44 L532.00,323.93 L532.50,324.45 L533.00,325.00 L533.50,325.59 L534.00,326.21 L534.50,326.88 L535.00,327.59 L535.50,328.36 L536.00,329.18 L536.50,330.06 L537.00,331.00 L537.50,332.01 L538.00,333.08 L538.50,334.20 L539.00,335.37 L539.50,336.57 L540.00,337.80 L540.50,339.04 L541.00,340.30 L541.50,341.56 L542.00,342.81 L542.50,344.05 L543.00,345.26 L543.50,346.46 L544.00,347.64 L544.50,348.79 L545.00,349.93 L545.50,351.05 L546.00,352.16 L546.50,353.24 L547.00,354.31 L547.50,355.37 L548.00,356.41 L548.50,357.43 L549.00,358.43 L549.50,359.41 L550.00,360.36 L550.50,361.27 L551.00,362.15 L551.50,362.97 L552.00,363.75 L552.50,364.47 L553.00,365.13 L553.50,365.73 L554.00,366.26 L554.50,366.72 L555.00,367.12 L555.50,367.46 L556.00,367.74 L556.50,367.96 L557.00,368.13 L557.50,368.24 L558.00,368.30 L558.50,368.31 L559.00,368.28 L559.50,368.20 L560.00,368.09 L560.50,367.94 L561.00,367.76 L561.50,367.55 L562.00,367.32 L562.50,367.07 L563.00,366.80 L563.50,366.52 L564.00,366.23 L564.50,365.93 L565.00,365.63 L565.50,365.34 L566.00,365.04 L566.50,364.75 L567.00,364.47 L567.50,364.20 L568.00,363.95 L568.50,363.71 L569.00,363.50 L569.50,363.31 L570.00,363.15 L570.50,363.01 L571.00,362.89 L571.50,362.80 L572.00,362.73 L572.50,362.69 L573.00,362.67 L573.50,362.67 L574.00,362.69 L574.50,362.73 L575.00,362.80 L575.50,362.89 L576.00,362.99 L576.50,363.12 L577.00,363.27 L577.50,363.43 L578.00,363.61 L578.50,363.81 L579.00,364.02 L579.50,364.25 L580.00,364.48 L580.50,364.74 L581.00,365.00 L581.50,365.27 L582.00,365.56 L582.50,365.85 L583.00,366.14 L583.50,366.44 L584.00,366.74 L584.50,367.05 L585.00,367.34 L585.50,367.64 L586.00,367.93 L586.50,368.21 L587.00,368.49 L587.50,368.75 L588.00,369.00 L588.50,369.24 L589.00,369.46 L589.50,369.67 L590.00,369.86 L590.50,370.05 L591.00,370.22 L591.50,370.38 L592.00,370.52 L592.50,370.66 L593.00,370.79 L593.50,370.90 L594.00,371.01 L594.50,371.11 L595.00,371.20 L595.50,371.28 L596.00,371.36 L596.50,371.42 L597.00,371.48 L597.50,371.54 L598.00,371.59 L598.50,371.63 L599.00,371.66 L599.50,371.70 L600.00,371.72 L600.50,371.74 L601.00,371.76 L601.50,371.78 L602.00,371.79 L602.50,371.79 L603.00,371.80 L603.50,371.80 L604.00,371.80 L604.50,371.80 L605.00,371.80 L605.50,371.79 L606.00,371.78 L606.50,371.77 L607.00,371.76 L607.50,371.74 L608.00,371.72 L608.50,371.70 L609.00,371.68 L609.50,371.66 L610.00,371.63 L610.50,371.60 L611.00,371.57 L611.50,371.54 L612.00,371.50 L612.50,371.46 L613.00,371.42 L613.50,371.38 L614.00,371.33 L614.50,371.28 L615.00,371.23 L615.50,371.18 L616.00,371.12 L616.50,371.06 L617.00,370.99 L617.50,370.92 L618.00,370.84 L618.50,370.77 L619.00,370.68 L619.50,370.59 L620.00,370.50 L620.50,370.40 L621.00,370.30 L621.50,370.19 L622.00,370.08 L622.50,369.96 L623.00,369.85 L623.50,369.73 L624.00,369.60 L624.50,369.48 L625.00,369.35 L625.50,369.23 L626.00,369.10 L626.50,368.98 L627.00,368.85 L627.50,368.72 L628.00,368.60 L628.50,368.48 L629.00,368.36 L629.50,368.24 L630.00,368.12 L630.50,368.00 L631.00,367.88 L631.50,367.75 L632.00,367.63 L632.50,367.50 L633.00,367.38 L633.50,367.25 L634.00,367.11 L634.50,366.97 L635.00,366.83 L635.50,366.68 L636.00,366.53 L636.50,366.38 L637.00,366.23 L637.50,366.08 L638.00,365.93 L638.50,365.79 L639.00,365.64 L639.50,365.50 L640.00,365.36 L640.50,365.23 L641.00,365.11 L641.50,364.99 L642.00,364.88 L642.50,364.78 L643.00,364.69 L643.50,364.61 L644.00,364.53 L644.50,364.47 L645.00,364.41 L645.50,364.36 L646.00,364.32 L646.50,364.29 L647.00,364.26 L647.50,364.23 L648.00,364.22 L648.50,364.20 L649.00,364.20 L649.50,364.20 L650.00,364.20 L650.50,364.20 L651.00,364.21 L651.50,364.22 L652.00,364.24 L652.50,364.26 L653.00,364.29 L653.50,364.32 L654.00,364.35 L654.50,364.40 L655.00,364.45 L655.50,364.51 L656.00,364.57 L656.50,364.64 L657.00,364.73 L657.50,364.82 L658.00,364.91 L658.50,365.02 L659.00,365.14 L659.50,365.27 L660.00,365.40 L660.50,365.55 L661.00,365.70 L661.50,365.87 L662.00,366.03 L662.50,366.21 L663.00,366.39 L663.50,366.58 L664.00,366.78 L664.50,366.98 L665.00,367.19 L665.50,367.40 L666.00,367.62 L666.50,367.84 L667.00,368.06 L667.50,368.29 L668.00,368.52 L668.50,368.76 L669.00,369.00 L669.50,369.24 L670.00,369.48 L670.50,369.72 L671.00,369.97 L671.50,370.22 L672.00,370.46 L672.50,370.71 L673.00,370.96 L673.50,371.21 L674.00,371.46 L674.50,371.71 L675.00,371.96 L675.50,372.20 L676.00,372.45 L676.50,372.70 L677.00,372.94 L677.50,373.18 L678.00,373.42 L678.50,373.65 L679.00,373.89 L679.50,374.11 L680.00,374.34 L680.50,374.56 L681.00,374.78 L681.50,374.99 L682.00,375.20 L682.50,375.41 L683.00,375.61 L683.50,375.80" fill="none" stroke="#4aabab" stroke-width="4.2" stroke-linejoin="round"/>
<path d="M75.80,364.20 L80.20,371.30 L75.80,378.40 L71.40,371.30 Z M84.00,364.00 L88.40,371.10 L84.00,378.20 L79.60,371.10 Z M92.40,363.60 L96.80,370.70 L92.40,377.80 L88.00,370.70 Z M100.60,363.30 L105.00,370.40 L100.60,377.50 L96.20,370.40 Z M108.60,363.20 L113.00,370.30 L108.60,377.40 L104.20,370.30 Z M117.00,362.90 L121.40,370.00 L117.00,377.10 L112.60,370.00 Z M125.30,362.60 L129.70,369.70 L125.30,376.80 L120.90,369.70 Z M133.40,362.00 L137.80,369.10 L133.40,376.20 L129.00,369.10 Z M141.60,361.70 L146.00,368.80 L141.60,375.90 L137.20,368.80 Z M149.80,361.40 L154.20,368.50 L149.80,375.60 L145.40,368.50 Z M158.10,361.10 L162.50,368.20 L158.10,375.30 L153.70,368.20 Z M166.40,360.50 L170.80,367.60 L166.40,374.70 L162.00,367.60 Z M174.70,359.80 L179.10,366.90 L174.70,374.00 L170.30,366.90 Z M182.80,358.00 L187.20,365.10 L182.80,372.20 L178.40,365.10 Z M191.20,355.60 L195.60,362.70 L191.20,369.80 L186.80,362.70 Z M199.40,353.10 L203.80,360.20 L199.40,367.30 L195.00,360.20 Z M207.60,346.00 L212.00,353.10 L207.60,360.20 L203.20,353.10 Z M216.00,331.20 L220.40,338.30 L216.00,345.40 L211.60,338.30 Z M224.20,315.70 L228.60,322.80 L224.20,329.90 L219.80,322.80 Z M232.40,314.20 L236.80,321.30 L232.40,328.40 L228.00,321.30 Z M522.40,314.60 L526.80,321.70 L522.40,328.80 L518.00,321.70 Z M526.70,313.40 L531.10,320.50 L526.70,327.60 L522.30,320.50 Z M535.20,321.90 L539.60,329.00 L535.20,336.10 L530.80,329.00 Z M543.00,340.20 L547.40,347.30 L543.00,354.40 L538.60,347.30 Z M551.50,350.60 L555.90,357.70 L551.50,364.80 L547.10,357.70 Z M559.60,354.50 L564.00,361.60 L559.60,368.70 L555.20,361.60 Z M568.00,356.50 L572.40,363.60 L568.00,370.70 L563.60,363.60 Z M576.40,358.20 L580.80,365.30 L576.40,372.40 L572.00,365.30 Z M584.30,359.10 L588.70,366.20 L584.30,373.30 L579.90,366.20 Z M592.90,360.50 L597.30,367.60 L592.90,374.70 L588.50,367.60 Z M601.00,361.20 L605.40,368.30 L601.00,375.40 L596.60,368.30 Z M609.10,361.80 L613.50,368.90 L609.10,376.00 L604.70,368.90 Z M617.40,362.30 L621.80,369.40 L617.40,376.50 L613.00,369.40 Z M625.70,362.70 L630.10,369.80 L625.70,376.90 L621.30,369.80 Z M633.90,362.90 L638.30,370.00 L633.90,377.10 L629.50,370.00 Z M642.20,363.30 L646.60,370.40 L642.20,377.50 L637.80,370.40 Z M650.50,363.60 L654.90,370.70 L650.50,377.80 L646.10,370.70 Z M658.70,363.70 L663.10,370.80 L658.70,377.90 L654.30,370.80 Z M667.00,363.90 L671.40,371.00 L667.00,378.10 L662.60,371.00 Z M675.30,364.20 L679.70,371.30 L675.30,378.40 L670.90,371.30 Z M683.50,364.50 L687.90,371.60 L683.50,378.70 L679.10,371.60 Z" fill="#eb5a5c"/>
</g>
<rect x="71.5" y="9.9" width="612.0" height="379.6" fill="none" stroke="#000" stroke-width="1.1"/>
<path d="M132.70,389.5 L132.70,394.4 M255.10,389.5 L255.10,394.4 M377.50,389.5 L377.50,394.4 M499.90,389.5 L499.90,394.4 M622.30,389.5 L622.30,394.4 M71.5,371.40 L66.6,371.40 M71.5,281.02 L66.6,281.02 M71.5,190.65 L66.6,190.65 M71.5,100.27 L66.6,100.27 M71.5,9.90 L66.6,9.90" stroke="#000" stroke-width="1.1" fill="none"/>
<g font-family='"Liberation Serif", serif' fill="#000" stroke="#000" stroke-width="0.12">
<text transform="translate(133.14,417.60) scale(1.1965,1)" font-size="27.5" text-anchor="middle" stroke-width="0">−4</text>
<text transform="translate(255.58,417.80) scale(1.1826,1)" font-size="27.5" text-anchor="middle" stroke-width="0">−2</text>
<text transform="translate(377.46,417.36) scale(1.1036,1)" font-size="27.5" text-anchor="middle" stroke-width="0">0</text>
<text transform="translate(499.54,417.24) scale(1.1394,1)" font-size="27.5" text-anchor="middle" stroke-width="0">2</text>
<text transform="translate(622.26,417.44) scale(1.1169,1)" font-size="27.5" text-anchor="middle" stroke-width="0">4</text>
<text transform="translate(62.00,380.30) scale(1.1160,1)" font-size="27.5" text-anchor="end" stroke-width="0">0</text>
<text transform="translate(61.72,290.16) scale(1.1060,1)" font-size="27.5" text-anchor="end" stroke-width="0">5</text>
<text transform="translate(62.16,200.03) scale(1.1618,1)" font-size="27.5" text-anchor="end" stroke-width="0">10</text>
<text transform="translate(61.84,109.53) scale(1.1435,1)" font-size="27.5" text-anchor="end" stroke-width="0">15</text>
<text transform="translate(61.32,19.32) scale(1.1282,1)" font-size="27.5" text-anchor="end" stroke-width="0">20</text>
<text transform="translate(376.64,445.50) scale(1.1919,1)" font-size="24.5" text-anchor="middle" ><tspan font-style="italic">ω</tspan> [MHz]</text>
<g transform="translate(17.9,200.4) rotate(-90)"><text transform="translate(-70.30,1.50) scale(1.1600,1)" font-size="27.5" font-style="italic">S</text><text transform="translate(-54.30,0) scale(1.1850,1)" font-size="24.5">(<tspan font-style="italic">ω</tspan>) [MHz]</text></g>
<rect x="442" y="32" width="48" height="17" fill="#e6ebed" stroke="none"/>
<path d="M443,74.6 L490,74.6" stroke="#272a36" stroke-width="2.9" stroke-dasharray="10 4.5"/>
<path d="M443,108.8 L490,108.8" stroke="#4aabab" stroke-width="4.2" stroke-linecap="square"/>
<path d="M466.30,135.70 L470.70,142.80 L466.30,149.90 L461.90,142.80 Z" fill="#eb5a5c" stroke="none"/>
<text transform="translate(509.36,48.20) scale(1.1306,1)" font-size="24.5" text-anchor="start" ><tspan font-style="italic">S</tspan>(<tspan font-style="italic">ω</tspan>) [MHz]</text>
<text transform="translate(509.60,83.48) scale(1.1152,1)" font-size="24.5" text-anchor="start" >FID FTNS</text>
<text transform="translate(507.92,117.52) scale(1.1457,1)" font-size="24.5" text-anchor="start" >SE FTNS</text>
<text transform="translate(508.38,150.88) scale(1.1178,1)" font-size="24.5" text-anchor="start" >CPMG-16 AS</text>
</g></svg>
</body></html>
